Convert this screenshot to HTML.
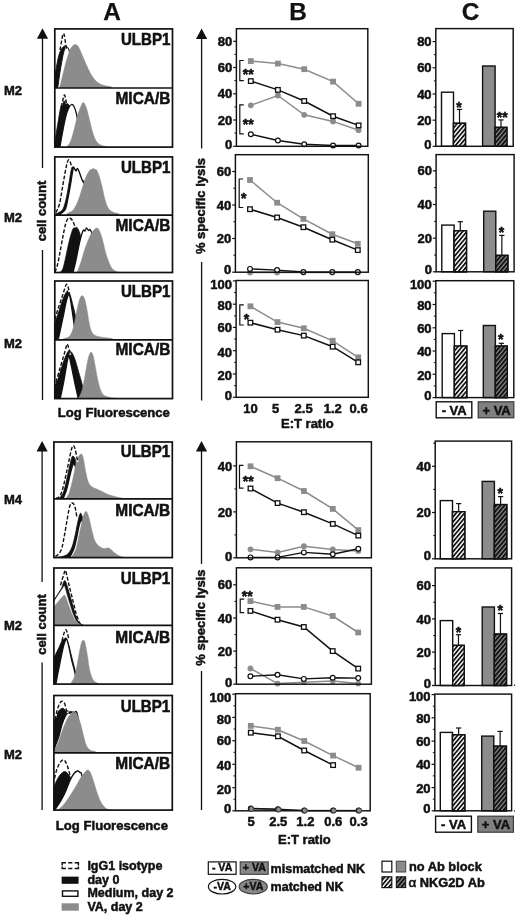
<!DOCTYPE html>
<html lang="en"><head><meta charset="utf-8"><title>Figure</title>
<style>
html,body{margin:0;padding:0;background:#fff;}
body{width:520px;height:918px;overflow:hidden;font-family:"Liberation Sans",sans-serif;}
svg{display:block;filter:blur(0.3px);}
</style></head><body>
<svg width="520" height="918" viewBox="0 0 520 918">
<rect width="520" height="918" fill="#fff"/>
<defs>
<pattern id="hw" width="3.2" height="3.2" patternUnits="userSpaceOnUse" patternTransform="rotate(-50)"><rect width="3.2" height="3.2" fill="#fff"/><rect width="3.2" height="1.75" fill="#111"/></pattern>
<pattern id="hg" width="3.2" height="3.2" patternUnits="userSpaceOnUse" patternTransform="rotate(-50)"><rect width="3.2" height="3.2" fill="#8c8c8c"/><rect width="3.2" height="1.95" fill="#111"/></pattern>
</defs>
<text x="112" y="20.4" font-size="24.4" text-anchor="middle" fill="#111" stroke="#111" stroke-width="0.25" font-family="Liberation Sans, sans-serif" font-weight="bold">A</text>
<text x="298" y="20.4" font-size="24.4" text-anchor="middle" fill="#111" stroke="#111" stroke-width="0.25" font-family="Liberation Sans, sans-serif" font-weight="bold">B</text>
<text x="470.5" y="20.4" font-size="24.4" text-anchor="middle" fill="#111" stroke="#111" stroke-width="0.25" font-family="Liberation Sans, sans-serif" font-weight="bold">C</text>
<clipPath id="h1a"><rect x="54.8" y="28.9" width="117.7" height="59.1"/></clipPath>
<g clip-path="url(#h1a)">
<path d="M53.5,86.5 C53.75,84.58 54.46,78.58 55,75 C55.54,71.42 56.12,68.25 56.75,65 C57.38,61.75 58,58.12 58.75,55.5 C59.5,52.88 60.42,50.75 61.25,49.25 C62.08,47.75 62.96,47.04 63.75,46.5 C64.54,45.96 65.21,45.62 66,46 C66.79,46.38 67.67,46.83 68.5,48.75 C69.33,50.67 70.08,53.12 71,57.5 C71.92,61.88 73.17,70.17 74,75 C74.83,79.83 75.67,84.58 76,86.5 L76,88 L53.5,88 Z" fill="#111" stroke="#111" stroke-width="0.8"/>
<path d="M58,86.5 C58.25,84.58 58.92,78.92 59.5,75 C60.08,71.08 60.79,66.83 61.5,63 C62.21,59.17 63,54.62 63.75,52 C64.5,49.38 65.25,47.79 66,47.25 C66.75,46.71 67.58,47.67 68.25,48.75 C68.92,49.83 69.29,51.04 70,53.75 C70.71,56.46 71.67,59.54 72.5,65 C73.33,70.46 74.58,82.92 75,86.5 L75,88 L58,88 Z" fill="#fff" stroke="none"/>
<path d="M58,86.5 C58.25,84.58 58.92,78.92 59.5,75 C60.08,71.08 60.79,66.83 61.5,63 C62.21,59.17 63,54.62 63.75,52 C64.5,49.38 65.25,47.79 66,47.25 C66.75,46.71 67.58,47.67 68.25,48.75 C68.92,49.83 69.29,51.04 70,53.75 C70.71,56.46 71.67,59.54 72.5,65 C73.33,70.46 74.58,82.92 75,86.5" fill="none" stroke="#111" stroke-width="1" stroke-linejoin="round"/>
<path d="M60,86.5 C60.46,84.58 61.88,78.58 62.75,75 C63.62,71.42 64.42,68.12 65.25,65 C66.08,61.88 66.79,59.08 67.75,56.25 C68.71,53.42 69.75,49.96 71,48 C72.25,46.04 73.96,44.58 75.25,44.5 C76.54,44.42 77.33,45.12 78.75,47.5 C80.17,49.88 81.88,54.58 83.75,58.75 C85.62,62.92 87.92,68.75 90,72.5 C92.08,76.25 94.17,79.17 96.25,81.25 C98.33,83.33 100,84.08 102.5,85 C105,85.92 109.79,86.46 111.25,86.75 L111.25,88 L60,88 Z" fill="#8c8c8c" stroke="#8c8c8c" stroke-width="0.5"/>
<path d="M60,50 C60.25,48.58 61,44.17 61.5,41.5 C62,38.83 62.54,35.08 63,34 C63.46,32.92 63.83,33.5 64.25,35 C64.67,36.5 65.12,40.71 65.5,43 C65.88,45.29 66.33,47.79 66.5,48.75" fill="none" stroke="#fff" stroke-width="1.6" stroke-dasharray="3.8 1.9" stroke-dashoffset="3.8" opacity="0.9"/>
<path d="M60,50 C60.25,48.58 61,44.17 61.5,41.5 C62,38.83 62.54,35.08 63,34 C63.46,32.92 63.83,33.5 64.25,35 C64.67,36.5 65.12,40.71 65.5,43 C65.88,45.29 66.33,47.79 66.5,48.75" fill="none" stroke="#111" stroke-width="1.4" stroke-dasharray="3.8 1.9"/>
</g>
<text transform="translate(170.4,44.7) scale(1,1.08)" font-size="15.1" text-anchor="end" fill="#111" stroke="#111" stroke-width="0.5" font-family="Liberation Sans, sans-serif" font-weight="bold">ULBP1</text>
<clipPath id="h1b"><rect x="54.8" y="88" width="117.7" height="59.1"/></clipPath>
<g clip-path="url(#h1b)">
<path d="M54.5,146.5 C54.75,144.58 55.42,139 56,135 C56.58,131 57.17,127.33 58,122.5 C58.83,117.67 60.08,109.5 61,106 C61.92,102.5 62.58,102.08 63.5,101.5 C64.42,100.92 65.5,101.75 66.5,102.5 C67.5,103.25 68.5,104.33 69.5,106 C70.5,107.67 71.58,109.33 72.5,112.5 C73.42,115.67 74.17,119.33 75,125 C75.83,130.67 77.08,142.92 77.5,146.5 L77.5,147.1 L54.5,147.1 Z" fill="#111" stroke="#111" stroke-width="0.8"/>
<path d="M60,146.5 C60.42,144.17 61.58,137.33 62.5,132.5 C63.42,127.67 64.5,121.5 65.5,117.5 C66.5,113.5 67.5,110.67 68.5,108.5 C69.5,106.33 70.58,104.83 71.5,104.5 C72.42,104.17 73.17,104.92 74,106.5 C74.83,108.08 75.67,110.5 76.5,114 C77.33,117.5 78.08,122.08 79,127.5 C79.92,132.92 81.5,143.33 82,146.5 L82,147.1 L60,147.1 Z" fill="#fff" stroke="none"/>
<path d="M60,146.5 C60.42,144.17 61.58,137.33 62.5,132.5 C63.42,127.67 64.5,121.5 65.5,117.5 C66.5,113.5 67.5,110.67 68.5,108.5 C69.5,106.33 70.58,104.83 71.5,104.5 C72.42,104.17 73.17,104.92 74,106.5 C74.83,108.08 75.67,110.5 76.5,114 C77.33,117.5 78.08,122.08 79,127.5 C79.92,132.92 81.5,143.33 82,146.5" fill="none" stroke="#111" stroke-width="1.3" stroke-linejoin="round"/>
<path d="M67.25,146.5 C67.83,145.58 69.58,143.92 70.75,141 C71.92,138.08 73.08,133.33 74.25,129 C75.42,124.67 76.58,118.92 77.75,115 C78.92,111.08 80.29,107.58 81.25,105.5 C82.21,103.42 82.67,102.17 83.5,102.5 C84.33,102.83 85.33,104.96 86.25,107.5 C87.17,110.04 87.96,113.71 89,117.75 C90.04,121.79 91.38,128 92.5,131.75 C93.62,135.5 94.46,138.08 95.75,140.25 C97.04,142.42 98.54,143.71 100.25,144.75 C101.96,145.79 105.04,146.21 106,146.5 L106,147.1 L67.25,147.1 Z" fill="#8c8c8c" stroke="#8c8c8c" stroke-width="0.5"/>
<path d="M61.5,107 C61.71,105.92 62.29,102.5 62.75,100.5 C63.21,98.5 63.79,95.42 64.25,95 C64.71,94.58 65.12,96.5 65.5,98 C65.88,99.5 66.33,103 66.5,104" fill="none" stroke="#fff" stroke-width="1.6" stroke-dasharray="3.8 1.9" stroke-dashoffset="3.8" opacity="0.9"/>
<path d="M61.5,107 C61.71,105.92 62.29,102.5 62.75,100.5 C63.21,98.5 63.79,95.42 64.25,95 C64.71,94.58 65.12,96.5 65.5,98 C65.88,99.5 66.33,103 66.5,104" fill="none" stroke="#111" stroke-width="1.4" stroke-dasharray="3.8 1.9"/>
</g>
<text transform="translate(170.4,103.6) scale(1,1.06)" font-size="15.45" text-anchor="end" fill="#111" stroke="#111" stroke-width="0.5" font-family="Liberation Sans, sans-serif" font-weight="bold">MICA/B</text>
<rect x="54.8" y="28.9" width="117.7" height="118.2" fill="none" stroke="#111" stroke-width="1.7" />
<line x1="54.8" y1="88" x2="172.5" y2="88" stroke="#111" stroke-width="1.7" />
<clipPath id="h2a"><rect x="54.8" y="156.9" width="117.7" height="58.3"/></clipPath>
<g clip-path="url(#h2a)">
<path d="M56,213.5 C56.29,213.42 56.58,213.75 57.75,213 C58.92,212.25 61.54,211.67 63,209 C64.46,206.33 65.5,201.29 66.5,197 C67.5,192.71 68.25,187.58 69,183.25 C69.75,178.92 70.42,173.75 71,171 C71.58,168.25 71.96,167.33 72.5,166.75 C73.04,166.17 73.67,166.79 74.25,167.5 C74.83,168.21 75.46,170.83 76,171 C76.54,171.17 76.92,168.21 77.5,168.5 C78.08,168.79 78.75,170.88 79.5,172.75 C80.25,174.62 81.17,177.88 82,179.75 C82.83,181.62 83.58,178.38 84.5,184 C85.42,189.62 87,208.58 87.5,213.5 L87.5,215.2 L56,215.2 Z" fill="#111" stroke="#111" stroke-width="0.8"/>
<path d="M61.25,213.5 C61.96,212.75 64.33,211.75 65.5,209 C66.67,206.25 67.38,201.29 68.25,197 C69.12,192.71 70.04,187.42 70.75,183.25 C71.46,179.08 72,174.54 72.5,172 C73,169.46 73.17,168.17 73.75,168 C74.33,167.83 75.38,170.92 76,171 C76.62,171.08 76.92,168.21 77.5,168.5 C78.08,168.79 78.75,170.88 79.5,172.75 C80.25,174.62 81.17,177.88 82,179.75 C82.83,181.62 83.58,182.79 84.5,184 C85.42,185.21 86.38,182.08 87.5,187 C88.62,191.92 90.62,209.08 91.25,213.5 L91.25,215.2 L61.25,215.2 Z" fill="#fff" stroke="none"/>
<path d="M61.25,213.5 C61.96,212.75 64.33,211.75 65.5,209 C66.67,206.25 67.38,201.29 68.25,197 C69.12,192.71 70.04,187.42 70.75,183.25 C71.46,179.08 72,174.54 72.5,172 C73,169.46 73.17,168.17 73.75,168 C74.33,167.83 75.38,170.92 76,171 C76.62,171.08 76.92,168.21 77.5,168.5 C78.08,168.79 78.75,170.88 79.5,172.75 C80.25,174.62 81.17,177.88 82,179.75 C82.83,181.62 83.58,182.79 84.5,184 C85.42,185.21 86.38,182.08 87.5,187 C88.62,191.92 90.62,209.08 91.25,213.5" fill="none" stroke="#111" stroke-width="1.3" stroke-linejoin="round"/>
<path d="M67.25,213.5 C68.12,213.04 71.04,212.08 72.5,210.75 C73.96,209.42 74.83,207.79 76,205.5 C77.17,203.21 78.38,200.17 79.5,197 C80.62,193.83 81.62,189.96 82.75,186.5 C83.88,183.04 85.08,178.96 86.25,176.25 C87.42,173.54 88.88,171.38 89.75,170.25 C90.62,169.12 90.92,169.79 91.5,169.5 C92.08,169.21 92.67,168.5 93.25,168.5 C93.83,168.5 94.42,169.21 95,169.5 C95.58,169.79 96.04,169.12 96.75,170.25 C97.46,171.38 98.38,173.54 99.25,176.25 C100.12,178.96 101,182.46 102,186.5 C103,190.54 104.12,196.75 105.25,200.5 C106.38,204.25 107.29,207 108.75,209 C110.21,211 112.33,211.75 114,212.5 C115.67,213.25 117.96,213.33 118.75,213.5 L118.75,215.2 L67.25,215.2 Z" fill="#8c8c8c" stroke="#8c8c8c" stroke-width="0.5"/>
<path d="M56,212.5 C56.58,211.08 58.5,207.75 59.5,204 C60.5,200.25 61.12,194.92 62,190 C62.88,185.08 63.88,179.08 64.75,174.5 C65.62,169.92 66.58,164.96 67.25,162.5 C67.92,160.04 68.25,159.83 68.75,159.75 C69.25,159.67 69.75,160.71 70.25,162 C70.75,163.29 71.5,166.58 71.75,167.5" fill="none" stroke="#fff" stroke-width="1.6" stroke-dasharray="3.8 1.9" stroke-dashoffset="3.8" opacity="0.9"/>
<path d="M56,212.5 C56.58,211.08 58.5,207.75 59.5,204 C60.5,200.25 61.12,194.92 62,190 C62.88,185.08 63.88,179.08 64.75,174.5 C65.62,169.92 66.58,164.96 67.25,162.5 C67.92,160.04 68.25,159.83 68.75,159.75 C69.25,159.67 69.75,160.71 70.25,162 C70.75,163.29 71.5,166.58 71.75,167.5" fill="none" stroke="#111" stroke-width="1.4" stroke-dasharray="3.8 1.9"/>
</g>
<text transform="translate(170.4,172.5) scale(1,1.08)" font-size="15.1" text-anchor="end" fill="#111" stroke="#111" stroke-width="0.5" font-family="Liberation Sans, sans-serif" font-weight="bold">ULBP1</text>
<clipPath id="h2b"><rect x="54.8" y="215.2" width="117.7" height="57.3"/></clipPath>
<g clip-path="url(#h2b)">
<path d="M60,272.5 C60.5,271.83 62,271.25 63,268.5 C64,265.75 65,260.38 66,256 C67,251.62 67.92,246.58 69,242.25 C70.08,237.92 71.42,232.54 72.5,230 C73.58,227.46 74.58,227.17 75.5,227 C76.42,226.83 77.17,227.5 78,229 C78.83,230.5 79.75,232.33 80.5,236 C81.25,239.67 81.92,244.92 82.5,251 C83.08,257.08 83.75,268.92 84,272.5 L84,272.5 L60,272.5 Z" fill="#111" stroke="#111" stroke-width="0.8"/>
<path d="M73,272.5 C73.5,270.42 75,264.58 76,260 C77,255.42 78.08,249.17 79,245 C79.92,240.83 80.75,237.5 81.5,235 C82.25,232.5 82.92,230.67 83.5,230 C84.08,229.33 84.5,231.33 85,231 C85.5,230.67 85.92,228.08 86.5,228 C87.08,227.92 87.92,230.25 88.5,230.5 C89.08,230.75 89.42,229 90,229.5 C90.58,230 91.33,231.58 92,233.5 C92.67,235.42 93.08,234.5 94,241 C94.92,247.5 96.92,267.25 97.5,272.5 L97.5,272.5 L73,272.5 Z" fill="#fff" stroke="none"/>
<path d="M73,272.5 C73.5,270.42 75,264.58 76,260 C77,255.42 78.08,249.17 79,245 C79.92,240.83 80.75,237.5 81.5,235 C82.25,232.5 82.92,230.67 83.5,230 C84.08,229.33 84.5,231.33 85,231 C85.5,230.67 85.92,228.08 86.5,228 C87.08,227.92 87.92,230.25 88.5,230.5 C89.08,230.75 89.42,229 90,229.5 C90.58,230 91.33,231.58 92,233.5 C92.67,235.42 93.08,234.5 94,241 C94.92,247.5 96.92,267.25 97.5,272.5" fill="none" stroke="#111" stroke-width="1.3" stroke-linejoin="round"/>
<path d="M77,272.5 C77.67,270.75 79.67,266 81,262 C82.33,258 83.5,252.83 85,248.5 C86.5,244.17 88.5,239.08 90,236 C91.5,232.92 92.83,231.33 94,230 C95.17,228.67 96.08,227.83 97,228 C97.92,228.17 98.58,229.04 99.5,231 C100.42,232.96 101.38,235.79 102.5,239.75 C103.62,243.71 104.79,250.17 106.25,254.75 C107.71,259.33 109.58,264.46 111.25,267.25 C112.92,270.04 114.29,270.58 116.25,271.5 C118.21,272.42 121.88,272.54 123,272.75 L123,272.5 L77,272.5 Z" fill="#8c8c8c" stroke="#8c8c8c" stroke-width="0.5"/>
<path d="M55,272 C55.42,270.79 56.67,268.04 57.5,264.75 C58.33,261.46 59.08,257.04 60,252.25 C60.92,247.46 62,240.96 63,236 C64,231.04 65,225.5 66,222.5 C67,219.5 67.92,218.33 69,218 C70.08,217.67 71.42,218.83 72.5,220.5 C73.58,222.17 75,226.75 75.5,228" fill="none" stroke="#fff" stroke-width="1.6" stroke-dasharray="3.8 1.9" stroke-dashoffset="3.8" opacity="0.9"/>
<path d="M55,272 C55.42,270.79 56.67,268.04 57.5,264.75 C58.33,261.46 59.08,257.04 60,252.25 C60.92,247.46 62,240.96 63,236 C64,231.04 65,225.5 66,222.5 C67,219.5 67.92,218.33 69,218 C70.08,217.67 71.42,218.83 72.5,220.5 C73.58,222.17 75,226.75 75.5,228" fill="none" stroke="#111" stroke-width="1.4" stroke-dasharray="3.8 1.9"/>
</g>
<text transform="translate(170.4,230.7) scale(1,1.06)" font-size="15.45" text-anchor="end" fill="#111" stroke="#111" stroke-width="0.5" font-family="Liberation Sans, sans-serif" font-weight="bold">MICA/B</text>
<rect x="54.8" y="156.9" width="117.7" height="115.6" fill="none" stroke="#111" stroke-width="1.7" />
<line x1="54.8" y1="215.2" x2="172.5" y2="215.2" stroke="#111" stroke-width="1.7" />
<clipPath id="h3a"><rect x="54.8" y="281" width="117.7" height="58.8"/></clipPath>
<g clip-path="url(#h3a)">
<path d="M53.5,327 C53.79,326.17 54.38,324.58 55.25,322 C56.12,319.42 57.62,314.96 58.75,311.5 C59.88,308.04 60.88,304.25 62,301.25 C63.12,298.25 64.46,295.25 65.5,293.5 C66.54,291.75 67.42,290.33 68.25,290.75 C69.08,291.17 69.67,293.38 70.5,296 C71.33,298.62 72.33,302.75 73.25,306.5 C74.17,310.25 75.33,314.75 76,318.5 C76.67,322.25 76.83,325.67 77.25,329 C77.67,332.33 78.29,336.92 78.5,338.5 L78.5,339.8 L53.5,339.8 Z" fill="#111" stroke="#111" stroke-width="0.8"/>
<path d="M58.5,338.5 C58.96,336.33 60.42,329.42 61.25,325.5 C62.08,321.58 62.79,318.46 63.5,315 C64.21,311.54 64.88,307.62 65.5,304.75 C66.12,301.88 66.71,299.5 67.25,297.75 C67.79,296 68.29,294.38 68.75,294.25 C69.21,294.12 69.58,295.25 70,297 C70.42,298.75 70.79,301.75 71.25,304.75 C71.71,307.75 72.29,311.83 72.75,315 C73.21,318.17 73.58,320.88 74,323.75 C74.42,326.62 74.92,329.79 75.25,332.25 C75.58,334.71 75.88,337.46 76,338.5 L76,339.8 L58.5,339.8 Z" fill="#fff" stroke="none"/>
<path d="M58.5,338.5 C58.96,336.33 60.42,329.42 61.25,325.5 C62.08,321.58 62.79,318.46 63.5,315 C64.21,311.54 64.88,307.62 65.5,304.75 C66.12,301.88 66.71,299.5 67.25,297.75 C67.79,296 68.29,294.38 68.75,294.25 C69.21,294.12 69.58,295.25 70,297 C70.42,298.75 70.79,301.75 71.25,304.75 C71.71,307.75 72.29,311.83 72.75,315 C73.21,318.17 73.58,320.88 74,323.75 C74.42,326.62 74.92,329.79 75.25,332.25 C75.58,334.71 75.88,337.46 76,338.5" fill="none" stroke="#111" stroke-width="1.3" stroke-linejoin="round"/>
<path d="M63.75,338.5 C64.62,338.21 67.54,338.08 69,336.75 C70.46,335.42 71.5,333.25 72.5,330.5 C73.5,327.75 74.12,324.25 75,320.25 C75.88,316.25 76.88,310.25 77.75,306.5 C78.62,302.75 79.46,299.54 80.25,297.75 C81.04,295.96 81.79,295.58 82.5,295.75 C83.21,295.92 83.79,296.67 84.5,298.75 C85.21,300.83 86,304.38 86.75,308.25 C87.5,312.12 88.21,318.12 89,322 C89.79,325.88 90.38,329.21 91.5,331.5 C92.62,333.79 93.71,334.75 95.75,335.75 C97.79,336.75 101,337.04 103.75,337.5 C106.5,337.96 110.83,338.33 112.25,338.5 L112.25,339.8 L63.75,339.8 Z" fill="#8c8c8c" stroke="#8c8c8c" stroke-width="0.5"/>
<path d="M55,319.5 C55.46,317.88 56.71,313.08 57.75,309.75 C58.79,306.42 60.17,302.79 61.25,299.5 C62.33,296.21 63.38,292.54 64.25,290 C65.12,287.46 65.83,284.67 66.5,284.25 C67.17,283.83 67.75,285.83 68.25,287.5 C68.75,289.17 69.29,293.12 69.5,294.25" fill="none" stroke="#fff" stroke-width="1.6" stroke-dasharray="3.8 1.9" stroke-dashoffset="3.8" opacity="0.9"/>
<path d="M55,319.5 C55.46,317.88 56.71,313.08 57.75,309.75 C58.79,306.42 60.17,302.79 61.25,299.5 C62.33,296.21 63.38,292.54 64.25,290 C65.12,287.46 65.83,284.67 66.5,284.25 C67.17,283.83 67.75,285.83 68.25,287.5 C68.75,289.17 69.29,293.12 69.5,294.25" fill="none" stroke="#111" stroke-width="1.4" stroke-dasharray="3.8 1.9"/>
</g>
<text transform="translate(170.4,297) scale(1,1.08)" font-size="15.1" text-anchor="end" fill="#111" stroke="#111" stroke-width="0.5" font-family="Liberation Sans, sans-serif" font-weight="bold">ULBP1</text>
<clipPath id="h3b"><rect x="54.8" y="339.8" width="117.7" height="58.8"/></clipPath>
<g clip-path="url(#h3b)">
<path d="M53.5,387 C53.92,386.46 55,386.04 56,383.75 C57,381.46 58.33,376.71 59.5,373.25 C60.67,369.79 61.83,366.17 63,363 C64.17,359.83 65.5,356.29 66.5,354.25 C67.5,352.21 68.12,351.04 69,350.75 C69.88,350.46 70.75,351.04 71.75,352.5 C72.75,353.96 73.88,356.33 75,359.5 C76.12,362.67 77.33,367.46 78.5,371.5 C79.67,375.54 81.12,380.29 82,383.75 C82.88,387.21 83.25,389.79 83.75,392.25 C84.25,394.71 84.79,397.46 85,398.5 L85,398.6 L53.5,398.6 Z" fill="#111" stroke="#111" stroke-width="0.8"/>
<path d="M60.25,398.5 C60.71,396.33 62.12,390 63,385.5 C63.88,381 64.79,375.54 65.5,371.5 C66.21,367.46 66.71,363.83 67.25,361.25 C67.79,358.67 68.29,356.29 68.75,356 C69.21,355.71 69.38,356.92 70,359.5 C70.62,362.08 71.67,367.46 72.5,371.5 C73.33,375.54 74.12,379.62 75,383.75 C75.88,387.88 77.21,393.79 77.75,396.25 C78.29,398.71 78.17,398.12 78.25,398.5 L78.25,398.6 L60.25,398.6 Z" fill="#fff" stroke="none"/>
<path d="M60.25,398.5 C60.71,396.33 62.12,390 63,385.5 C63.88,381 64.79,375.54 65.5,371.5 C66.21,367.46 66.71,363.83 67.25,361.25 C67.79,358.67 68.29,356.29 68.75,356 C69.21,355.71 69.38,356.92 70,359.5 C70.62,362.08 71.67,367.46 72.5,371.5 C73.33,375.54 74.12,379.62 75,383.75 C75.88,387.88 77.21,393.79 77.75,396.25 C78.29,398.71 78.17,398.12 78.25,398.5" fill="none" stroke="#111" stroke-width="1.3" stroke-linejoin="round"/>
<path d="M78.5,398.5 C79.08,397.17 81,393.83 82,390.5 C83,387.17 83.62,383.08 84.5,378.5 C85.38,373.92 86.42,367.04 87.25,363 C88.08,358.96 88.83,356.04 89.5,354.25 C90.17,352.46 90.62,351.96 91.25,352.25 C91.88,352.54 92.58,353.62 93.25,356 C93.92,358.38 94.54,362.75 95.25,366.5 C95.96,370.25 96.67,374.75 97.5,378.5 C98.33,382.25 99.25,386.25 100.25,389 C101.25,391.75 101.79,393.58 103.5,395 C105.21,396.42 107.75,396.92 110.5,397.5 C113.25,398.08 118.42,398.33 120,398.5 L120,398.6 L78.5,398.6 Z" fill="#8c8c8c" stroke="#8c8c8c" stroke-width="0.5"/>
<path d="M56,382 C56.67,379.71 58.71,372.62 60,368.25 C61.29,363.88 62.75,359.21 63.75,355.75 C64.75,352.29 65.42,349.46 66,347.5 C66.58,345.54 66.75,343.75 67.25,344 C67.75,344.25 68.46,347.17 69,349 C69.54,350.83 70.25,354 70.5,355" fill="none" stroke="#fff" stroke-width="1.6" stroke-dasharray="3.8 1.9" stroke-dashoffset="3.8" opacity="0.9"/>
<path d="M56,382 C56.67,379.71 58.71,372.62 60,368.25 C61.29,363.88 62.75,359.21 63.75,355.75 C64.75,352.29 65.42,349.46 66,347.5 C66.58,345.54 66.75,343.75 67.25,344 C67.75,344.25 68.46,347.17 69,349 C69.54,350.83 70.25,354 70.5,355" fill="none" stroke="#111" stroke-width="1.4" stroke-dasharray="3.8 1.9"/>
</g>
<text transform="translate(170.4,355.4) scale(1,1.06)" font-size="15.45" text-anchor="end" fill="#111" stroke="#111" stroke-width="0.5" font-family="Liberation Sans, sans-serif" font-weight="bold">MICA/B</text>
<rect x="54.8" y="281" width="117.7" height="117.6" fill="none" stroke="#111" stroke-width="1.7" />
<line x1="54.8" y1="339.8" x2="172.5" y2="339.8" stroke="#111" stroke-width="1.7" />
<clipPath id="h4a"><rect x="53.9" y="442" width="118.4" height="56.8"/></clipPath>
<g clip-path="url(#h4a)">
<path d="M55,499 C55.75,498.75 58.17,498.46 59.5,497.5 C60.83,496.54 62,495.38 63,493.25 C64,491.12 64.62,488.21 65.5,484.75 C66.38,481.29 67.42,476.25 68.25,472.5 C69.08,468.75 69.79,464.96 70.5,462.25 C71.21,459.54 71.75,456.83 72.5,456.25 C73.25,455.67 74.42,457.17 75,458.75 C75.58,460.33 75.5,458.96 76,465.75 C76.5,472.54 77.67,493.88 78,499.5 L78,498.8 L55,498.8 Z" fill="#111" stroke="#111" stroke-width="0.8"/>
<path d="M63,499 C63.58,497.5 65.5,493.25 66.5,490 C67.5,486.75 68.17,482.96 69,479.5 C69.83,476.04 70.79,471.83 71.5,469.25 C72.21,466.67 72.67,464.58 73.25,464 C73.83,463.42 74.38,464.25 75,465.75 C75.62,467.25 76.17,467.38 77,473 C77.83,478.62 79.5,495.08 80,499.5 L80,498.8 L63,498.8 Z" fill="#fff" stroke="none"/>
<path d="M63,499 C63.58,497.5 65.5,493.25 66.5,490 C67.5,486.75 68.17,482.96 69,479.5 C69.83,476.04 70.79,471.83 71.5,469.25 C72.21,466.67 72.67,464.58 73.25,464 C73.83,463.42 74.38,464.25 75,465.75 C75.62,467.25 76.17,467.38 77,473 C77.83,478.62 79.5,495.08 80,499.5" fill="none" stroke="#111" stroke-width="1.3" stroke-linejoin="round"/>
<path d="M64.5,499 C64.83,498.75 65.75,498.46 66.5,497.5 C67.25,496.54 68.17,495.38 69,493.25 C69.83,491.12 70.62,488.21 71.5,484.75 C72.38,481.29 73.38,476.54 74.25,472.5 C75.12,468.46 75.88,463.38 76.75,460.5 C77.62,457.62 78.62,456.25 79.5,455.25 C80.38,454.25 81.29,453.62 82,454.5 C82.71,455.38 83.17,457.79 83.75,460.5 C84.33,463.21 84.79,467.29 85.5,470.75 C86.21,474.21 87,478.62 88,481.25 C89,483.88 90.04,485.21 91.5,486.5 C92.96,487.79 95,488.17 96.75,489 C98.5,489.83 100,490.54 102,491.5 C104,492.46 106.46,493.88 108.75,494.75 C111.04,495.62 113.25,496.12 115.75,496.75 C118.25,497.38 122.42,498.21 123.75,498.5 L123.75,498.8 L64.5,498.8 Z" fill="#8c8c8c" stroke="#8c8c8c" stroke-width="0.5"/>
<path d="M56,498.5 C56.5,498.25 58.12,497.88 59,497 C59.88,496.12 60.46,495.29 61.25,493.25 C62.04,491.21 62.88,488.21 63.75,484.75 C64.62,481.29 65.62,476.54 66.5,472.5 C67.38,468.46 68.17,464.38 69,460.5 C69.83,456.62 70.79,451.71 71.5,449.25 C72.21,446.79 72.67,445.88 73.25,445.75 C73.83,445.62 74.42,446.62 75,448.5 C75.58,450.38 76.29,454.71 76.75,457 C77.21,459.29 77.58,461.38 77.75,462.25" fill="none" stroke="#fff" stroke-width="1.6" stroke-dasharray="3.8 1.9" stroke-dashoffset="3.8" opacity="0.9"/>
<path d="M56,498.5 C56.5,498.25 58.12,497.88 59,497 C59.88,496.12 60.46,495.29 61.25,493.25 C62.04,491.21 62.88,488.21 63.75,484.75 C64.62,481.29 65.62,476.54 66.5,472.5 C67.38,468.46 68.17,464.38 69,460.5 C69.83,456.62 70.79,451.71 71.5,449.25 C72.21,446.79 72.67,445.88 73.25,445.75 C73.83,445.62 74.42,446.62 75,448.5 C75.58,450.38 76.29,454.71 76.75,457 C77.21,459.29 77.58,461.38 77.75,462.25" fill="none" stroke="#111" stroke-width="1.4" stroke-dasharray="3.8 1.9"/>
</g>
<text transform="translate(170.2,457.2) scale(1,1.08)" font-size="15.1" text-anchor="end" fill="#111" stroke="#111" stroke-width="0.5" font-family="Liberation Sans, sans-serif" font-weight="bold">ULBP1</text>
<clipPath id="h4b"><rect x="53.9" y="498.8" width="118.4" height="58.8"/></clipPath>
<g clip-path="url(#h4b)">
<path d="M56,557.5 C57.75,557.08 63.83,556.75 66.5,555 C69.17,553.25 70.5,550.58 72,547 C73.5,543.42 74.5,537.83 75.5,533.5 C76.5,529.17 77.21,524.33 78,521 C78.79,517.67 79.58,514.33 80.25,513.5 C80.92,512.67 81.54,514.33 82,516 C82.46,517.67 82.5,516.58 83,523.5 C83.5,530.42 84.67,551.83 85,557.5 L85,557.6 L56,557.6 Z" fill="#111" stroke="#111" stroke-width="0.8"/>
<path d="M69.5,557.5 C70.25,556 72.75,552.08 74,548.5 C75.25,544.92 76.17,539.75 77,536 C77.83,532.25 78.33,528.5 79,526 C79.67,523.5 80.33,521.42 81,521 C81.67,520.58 82.25,517.42 83,523.5 C83.75,529.58 85.08,551.83 85.5,557.5 L85.5,557.6 L69.5,557.6 Z" fill="#fff" stroke="none"/>
<path d="M69.5,557.5 C70.25,556 72.75,552.08 74,548.5 C75.25,544.92 76.17,539.75 77,536 C77.83,532.25 78.33,528.5 79,526 C79.67,523.5 80.33,521.42 81,521 C81.67,520.58 82.25,517.42 83,523.5 C83.75,529.58 85.08,551.83 85.5,557.5" fill="none" stroke="#111" stroke-width="1.3" stroke-linejoin="round"/>
<path d="M71,557.5 C71.83,556.08 74.5,553.42 76,549 C77.5,544.58 78.83,536.25 80,531 C81.17,525.75 82.08,520.75 83,517.5 C83.92,514.25 84.75,512.17 85.5,511.5 C86.25,510.83 86.83,512.12 87.5,513.5 C88.17,514.88 88.75,516.83 89.5,519.75 C90.25,522.67 91.08,527.46 92,531 C92.92,534.54 93.88,538.5 95,541 C96.12,543.5 97.29,544.75 98.75,546 C100.21,547.25 102.08,548.17 103.75,548.5 C105.42,548.83 107.29,547.58 108.75,548 C110.21,548.42 111.04,549.83 112.5,551 C113.96,552.17 115.62,553.92 117.5,555 C119.38,556.08 122.71,557.08 123.75,557.5 L123.75,557.6 L71,557.6 Z" fill="#8c8c8c" stroke="#8c8c8c" stroke-width="0.5"/>
<path d="M55.5,556.5 C56.42,555.5 59.5,554.08 61,550.5 C62.5,546.92 63.42,540.5 64.5,535 C65.58,529.5 66.58,522.42 67.5,517.5 C68.42,512.58 69.17,507.92 70,505.5 C70.83,503.08 71.67,502.75 72.5,503 C73.33,503.25 74.25,504.5 75,507 C75.75,509.5 76.67,516.17 77,518" fill="none" stroke="#fff" stroke-width="1.6" stroke-dasharray="3.8 1.9" stroke-dashoffset="3.8" opacity="0.9"/>
<path d="M55.5,556.5 C56.42,555.5 59.5,554.08 61,550.5 C62.5,546.92 63.42,540.5 64.5,535 C65.58,529.5 66.58,522.42 67.5,517.5 C68.42,512.58 69.17,507.92 70,505.5 C70.83,503.08 71.67,502.75 72.5,503 C73.33,503.25 74.25,504.5 75,507 C75.75,509.5 76.67,516.17 77,518" fill="none" stroke="#111" stroke-width="1.4" stroke-dasharray="3.8 1.9"/>
</g>
<text transform="translate(170.2,515.7) scale(1,1.06)" font-size="15.45" text-anchor="end" fill="#111" stroke="#111" stroke-width="0.5" font-family="Liberation Sans, sans-serif" font-weight="bold">MICA/B</text>
<rect x="53.9" y="442" width="118.4" height="115.6" fill="none" stroke="#111" stroke-width="1.7" />
<line x1="53.9" y1="498.8" x2="172.3" y2="498.8" stroke="#111" stroke-width="1.7" />
<clipPath id="h5a"><rect x="53.9" y="568" width="118.4" height="57.3"/></clipPath>
<g clip-path="url(#h5a)">
<path d="M53.75,600.5 C54.58,599.21 57.38,594.96 58.75,592.75 C60.12,590.54 61.25,588.92 62,587.25 C62.75,585.58 62.83,583.83 63.25,582.75 C63.67,581.67 64.12,581 64.5,580.75 C64.88,580.5 65.08,580.46 65.5,581.25 C65.92,582.04 66.42,583.65 67,585.5 C67.58,587.35 68.21,589.71 69,592.38 C69.79,595.04 70.79,598.31 71.75,601.5 C72.71,604.69 73.75,608.58 74.75,611.5 C75.75,614.42 76.71,616.92 77.75,619 C78.79,621.08 80.12,623.02 81,624 C81.88,624.98 82.67,624.73 83,624.88 L83,625.3 L53.75,625.3 Z" fill="#111" stroke="#111" stroke-width="0.8"/>
<path d="M53.75,601.25 C54.58,599.96 57.29,595.71 58.75,593.5 C60.21,591.29 61.58,589.33 62.5,588 C63.42,586.67 63.75,585.46 64.25,585.5 C64.75,585.54 64.96,586.58 65.5,588.25 C66.04,589.92 66.75,592.94 67.5,595.5 C68.25,598.06 69.08,600.71 70,603.62 C70.92,606.54 72,610.29 73,613 C74,615.71 75,618.06 76,619.88 C77,621.69 78.21,623.04 79,623.88 C79.79,624.71 80.46,624.71 80.75,624.88 L80.75,625.3 L53.75,625.3 Z" fill="#fff" stroke="none"/>
<path d="M53.75,601.25 C54.58,599.96 57.29,595.71 58.75,593.5 C60.21,591.29 61.58,589.33 62.5,588 C63.42,586.67 63.75,585.46 64.25,585.5 C64.75,585.54 64.96,586.58 65.5,588.25 C66.04,589.92 66.75,592.94 67.5,595.5 C68.25,598.06 69.08,600.71 70,603.62 C70.92,606.54 72,610.29 73,613 C74,615.71 75,618.06 76,619.88 C77,621.69 78.21,623.04 79,623.88 C79.79,624.71 80.46,624.71 80.75,624.88" fill="none" stroke="#111" stroke-width="0.7" stroke-linejoin="round"/>
<path d="M53.75,607.12 C54.58,606.08 57.29,602.6 58.75,600.88 C60.21,599.15 61.5,597.69 62.5,596.75 C63.5,595.81 64.02,594.67 64.75,595.25 C65.48,595.83 66,597.96 66.88,600.25 C67.75,602.54 68.96,606.29 70,609 C71.04,611.71 72.08,614.42 73.12,616.5 C74.17,618.58 75.1,620.21 76.25,621.5 C77.4,622.79 79.17,623.69 80,624.25 C80.83,624.81 81.04,624.77 81.25,624.88 L81.25,625.3 L53.75,625.3 Z" fill="#8c8c8c" stroke="#8c8c8c" stroke-width="0.5"/>
<path d="M60.5,585.25 C60.75,584.38 61.46,581.77 62,580 C62.54,578.23 63.21,576.25 63.75,574.62 C64.29,573 64.73,570.1 65.25,570.25 C65.77,570.4 66.29,573.21 66.88,575.5 C67.46,577.79 68.02,580.92 68.75,584 C69.48,587.08 70.42,590.67 71.25,594 C72.08,597.33 72.92,600.67 73.75,604 C74.58,607.33 75.38,611.12 76.25,614 C77.12,616.88 78.54,620.04 79,621.25" fill="none" stroke="#fff" stroke-width="1.6" stroke-dasharray="3.8 1.9" stroke-dashoffset="3.8" opacity="0.9"/>
<path d="M60.5,585.25 C60.75,584.38 61.46,581.77 62,580 C62.54,578.23 63.21,576.25 63.75,574.62 C64.29,573 64.73,570.1 65.25,570.25 C65.77,570.4 66.29,573.21 66.88,575.5 C67.46,577.79 68.02,580.92 68.75,584 C69.48,587.08 70.42,590.67 71.25,594 C72.08,597.33 72.92,600.67 73.75,604 C74.58,607.33 75.38,611.12 76.25,614 C77.12,616.88 78.54,620.04 79,621.25" fill="none" stroke="#111" stroke-width="1.4" stroke-dasharray="3.8 1.9"/>
</g>
<text transform="translate(170.2,584.3) scale(1,1.08)" font-size="15.1" text-anchor="end" fill="#111" stroke="#111" stroke-width="0.5" font-family="Liberation Sans, sans-serif" font-weight="bold">ULBP1</text>
<clipPath id="h5b"><rect x="53.9" y="625.3" width="118.4" height="58.8"/></clipPath>
<g clip-path="url(#h5b)">
<path d="M53.5,659.5 C53.83,658.67 54.62,656.42 55.5,654.5 C56.38,652.58 57.67,650.25 58.75,648 C59.83,645.75 61,642.58 62,641 C63,639.42 64,638.92 64.75,638.5 C65.5,638.08 65.79,637.21 66.5,638.5 C67.21,639.79 68,642.67 69,646.25 C70,649.83 71.33,655.38 72.5,660 C73.67,664.62 75.12,670.08 76,674 C76.88,677.92 77.46,681.92 77.75,683.5 L77.75,684.1 L53.5,684.1 Z" fill="#111" stroke="#111" stroke-width="0.8"/>
<path d="M56,683.5 C56.29,681.92 57.17,677.04 57.75,674 C58.33,670.96 58.92,668.17 59.5,665.25 C60.08,662.33 60.58,659.67 61.25,656.5 C61.92,653.33 62.79,648.96 63.5,646.25 C64.21,643.54 64.96,641.42 65.5,640.25 C66.04,639.08 66.21,638.25 66.75,639.25 C67.29,640.25 67.96,642.92 68.75,646.25 C69.54,649.58 70.46,654.79 71.5,659.25 C72.54,663.71 74.12,668.96 75,673 C75.88,677.04 76.46,681.75 76.75,683.5 L76.75,684.1 L56,684.1 Z" fill="#fff" stroke="none"/>
<path d="M56,683.5 C56.29,681.92 57.17,677.04 57.75,674 C58.33,670.96 58.92,668.17 59.5,665.25 C60.08,662.33 60.58,659.67 61.25,656.5 C61.92,653.33 62.79,648.96 63.5,646.25 C64.21,643.54 64.96,641.42 65.5,640.25 C66.04,639.08 66.21,638.25 66.75,639.25 C67.29,640.25 67.96,642.92 68.75,646.25 C69.54,649.58 70.46,654.79 71.5,659.25 C72.54,663.71 74.12,668.96 75,673 C75.88,677.04 76.46,681.75 76.75,683.5" fill="none" stroke="#111" stroke-width="1.3" stroke-linejoin="round"/>
<path d="M70.75,683.5 C71.33,682.46 73.25,680 74.25,677.25 C75.25,674.5 75.88,671.29 76.75,667 C77.62,662.71 78.71,655.54 79.5,651.5 C80.29,647.46 80.88,644.62 81.5,642.75 C82.12,640.88 82.67,640.25 83.25,640.25 C83.83,640.25 84.33,640.33 85,642.75 C85.67,645.17 86.46,650.12 87.25,654.75 C88.04,659.38 88.75,666.29 89.75,670.5 C90.75,674.71 91.88,677.83 93.25,680 C94.62,682.17 97.21,682.92 98,683.5 L98,684.1 L70.75,684.1 Z" fill="#8c8c8c" stroke="#8c8c8c" stroke-width="0.5"/>
<path d="M62,641 C62.25,640 62.92,636.88 63.5,635 C64.08,633.12 64.88,630.17 65.5,629.75 C66.12,629.33 66.71,630.92 67.25,632.5 C67.79,634.08 68.5,638.12 68.75,639.25" fill="none" stroke="#fff" stroke-width="1.6" stroke-dasharray="3.8 1.9" stroke-dashoffset="3.8" opacity="0.9"/>
<path d="M62,641 C62.25,640 62.92,636.88 63.5,635 C64.08,633.12 64.88,630.17 65.5,629.75 C66.12,629.33 66.71,630.92 67.25,632.5 C67.79,634.08 68.5,638.12 68.75,639.25" fill="none" stroke="#111" stroke-width="1.4" stroke-dasharray="3.8 1.9"/>
</g>
<text transform="translate(170.2,643.3) scale(1,1.06)" font-size="15.45" text-anchor="end" fill="#111" stroke="#111" stroke-width="0.5" font-family="Liberation Sans, sans-serif" font-weight="bold">MICA/B</text>
<rect x="53.9" y="568" width="118.4" height="116.1" fill="none" stroke="#111" stroke-width="1.7" />
<line x1="53.9" y1="625.3" x2="172.3" y2="625.3" stroke="#111" stroke-width="1.7" />
<clipPath id="h6a"><rect x="53.9" y="695.5" width="118.4" height="57.4"/></clipPath>
<g clip-path="url(#h6a)">
<path d="M53,725 C53.21,724.38 53.58,723.04 54.25,721.25 C54.92,719.46 56.12,716.12 57,714.25 C57.88,712.38 58.5,711 59.5,710 C60.5,709 61.83,707.96 63,708.25 C64.17,708.54 65.62,710.92 66.5,711.75 C67.38,712.58 67.25,706.62 68.25,713.25 C69.25,719.88 71.79,745.12 72.5,751.5 L72.5,752.9 L53,752.9 Z" fill="#111" stroke="#111" stroke-width="0.8"/>
<path d="M54.5,750 C54.62,749.38 54.54,748.46 55.25,746.25 C55.96,744.04 57.62,740.38 58.75,736.75 C59.88,733.12 60.88,727.96 62,724.5 C63.12,721.04 64.46,718 65.5,716 C66.54,714 67.21,713.21 68.25,712.5 C69.29,711.79 70.75,711.75 71.75,711.75 C72.75,711.75 73.29,711.96 74.25,712.5 C75.21,713.04 76.12,708.5 77.5,715 C78.88,721.5 81.67,745.42 82.5,751.5 L82.5,752.9 L54.5,752.9 Z" fill="#fff" stroke="none"/>
<path d="M54.5,750 C54.62,749.38 54.54,748.46 55.25,746.25 C55.96,744.04 57.62,740.38 58.75,736.75 C59.88,733.12 60.88,727.96 62,724.5 C63.12,721.04 64.46,718 65.5,716 C66.54,714 67.21,713.21 68.25,712.5 C69.29,711.79 70.75,711.75 71.75,711.75 C72.75,711.75 73.29,711.96 74.25,712.5 C75.21,713.04 76.12,708.5 77.5,715 C78.88,721.5 81.67,745.42 82.5,751.5" fill="none" stroke="#111" stroke-width="1.3" stroke-linejoin="round"/>
<path d="M54.75,750 C55.42,748.5 57.54,744.08 58.75,741 C59.96,737.92 60.88,734.54 62,731.5 C63.12,728.46 64.33,725.33 65.5,722.75 C66.67,720.17 67.71,717.71 69,716 C70.29,714.29 72.08,712.96 73.25,712.5 C74.42,712.04 75.12,712.38 76,713.25 C76.88,714.12 77.62,715.58 78.5,717.75 C79.38,719.92 80.38,723.08 81.25,726.25 C82.12,729.42 82.92,733.58 83.75,736.75 C84.58,739.92 85.25,743.08 86.25,745.25 C87.25,747.42 88.21,748.71 89.75,749.75 C91.29,750.79 94.54,751.21 95.5,751.5 L95.5,752.9 L54.75,752.9 Z" fill="#8c8c8c" stroke="#8c8c8c" stroke-width="0.5"/>
<path d="M55.25,719.5 C55.54,718.04 56.29,713.38 57,710.75 C57.71,708.12 58.67,705.33 59.5,703.75 C60.33,702.17 61.12,701.25 62,701.25 C62.88,701.25 64,702.17 64.75,703.75 C65.5,705.33 65.79,709.17 66.5,710.75 C67.21,712.33 68,713.08 69,713.25 C70,713.42 71.92,712 72.5,711.75" fill="none" stroke="#fff" stroke-width="1.6" stroke-dasharray="3.8 1.9" stroke-dashoffset="3.8" opacity="0.9"/>
<path d="M55.25,719.5 C55.54,718.04 56.29,713.38 57,710.75 C57.71,708.12 58.67,705.33 59.5,703.75 C60.33,702.17 61.12,701.25 62,701.25 C62.88,701.25 64,702.17 64.75,703.75 C65.5,705.33 65.79,709.17 66.5,710.75 C67.21,712.33 68,713.08 69,713.25 C70,713.42 71.92,712 72.5,711.75" fill="none" stroke="#111" stroke-width="1.4" stroke-dasharray="3.8 1.9"/>
</g>
<text transform="translate(170.2,711.9) scale(1,1.08)" font-size="15.1" text-anchor="end" fill="#111" stroke="#111" stroke-width="0.5" font-family="Liberation Sans, sans-serif" font-weight="bold">ULBP1</text>
<clipPath id="h6b"><rect x="53.9" y="752.9" width="118.4" height="57.2"/></clipPath>
<g clip-path="url(#h6b)">
<path d="M53.5,789 C53.92,787.83 54.92,784.33 56,782 C57.08,779.67 58.58,776.75 60,775 C61.42,773.25 63.17,771.67 64.5,771.5 C65.83,771.33 66.92,772.5 68,774 C69.08,775.5 69.83,774.42 71,780.5 C72.17,786.58 74.33,805.5 75,810.5 L75,810.1 L53.5,810.1 Z" fill="#111" stroke="#111" stroke-width="0.8"/>
<path d="M54.5,810.5 C55.58,808.83 59.08,803.83 61,800.5 C62.92,797.17 64.5,793.83 66,790.5 C67.5,787.17 68.67,783.33 70,780.5 C71.33,777.67 72.75,775.08 74,773.5 C75.25,771.92 76.5,771.17 77.5,771 C78.5,770.83 79.25,771.58 80,772.5 C80.75,773.42 80.75,770.17 82,776.5 C83.25,782.83 86.58,804.83 87.5,810.5 L87.5,810.1 L54.5,810.1 Z" fill="#fff" stroke="none"/>
<path d="M54.5,810.5 C55.58,808.83 59.08,803.83 61,800.5 C62.92,797.17 64.5,793.83 66,790.5 C67.5,787.17 68.67,783.33 70,780.5 C71.33,777.67 72.75,775.08 74,773.5 C75.25,771.92 76.5,771.17 77.5,771 C78.5,770.83 79.25,771.58 80,772.5 C80.75,773.42 80.75,770.17 82,776.5 C83.25,782.83 86.58,804.83 87.5,810.5" fill="none" stroke="#111" stroke-width="1.3" stroke-linejoin="round"/>
<path d="M57,810.5 C58,809.67 60.92,807.83 63,805.5 C65.08,803.17 67.38,799.67 69.5,796.5 C71.62,793.33 73.88,789.62 75.75,786.5 C77.62,783.38 79.12,780.25 80.75,777.75 C82.38,775.25 84.21,772.75 85.5,771.5 C86.79,770.25 87.58,769.83 88.5,770.25 C89.42,770.67 90.08,771.92 91,774 C91.92,776.08 92.92,779.42 94,782.75 C95.08,786.08 96.29,790.67 97.5,794 C98.71,797.33 99.79,800.33 101.25,802.75 C102.71,805.17 104.46,807.21 106.25,808.5 C108.04,809.79 111.04,810.17 112,810.5 L112,810.1 L57,810.1 Z" fill="#8c8c8c" stroke="#8c8c8c" stroke-width="0.5"/>
<path d="M54.5,778.5 C54.92,776.92 56,771.75 57,769 C58,766.25 59.33,763.5 60.5,762 C61.67,760.5 62.92,759.5 64,760 C65.08,760.5 66,762.5 67,765 C68,767.5 69.5,773.33 70,775" fill="none" stroke="#fff" stroke-width="1.6" stroke-dasharray="3.8 1.9" stroke-dashoffset="3.8" opacity="0.9"/>
<path d="M54.5,778.5 C54.92,776.92 56,771.75 57,769 C58,766.25 59.33,763.5 60.5,762 C61.67,760.5 62.92,759.5 64,760 C65.08,760.5 66,762.5 67,765 C68,767.5 69.5,773.33 70,775" fill="none" stroke="#111" stroke-width="1.4" stroke-dasharray="3.8 1.9"/>
</g>
<text transform="translate(170.2,769) scale(1,1.06)" font-size="15.45" text-anchor="end" fill="#111" stroke="#111" stroke-width="0.5" font-family="Liberation Sans, sans-serif" font-weight="bold">MICA/B</text>
<rect x="53.9" y="695.5" width="118.4" height="114.6" fill="none" stroke="#111" stroke-width="1.7" />
<line x1="53.9" y1="752.9" x2="172.3" y2="752.9" stroke="#111" stroke-width="1.7" />
<text x="4" y="95.1" font-size="13" text-anchor="start" fill="#111" stroke="#111" stroke-width="0.5" font-family="Liberation Sans, sans-serif" font-weight="bold" >M2</text>
<text x="4" y="221.6" font-size="13" text-anchor="start" fill="#111" stroke="#111" stroke-width="0.5" font-family="Liberation Sans, sans-serif" font-weight="bold" >M2</text>
<text x="4" y="347.5" font-size="13" text-anchor="start" fill="#111" stroke="#111" stroke-width="0.5" font-family="Liberation Sans, sans-serif" font-weight="bold" >M2</text>
<text x="4" y="503.6" font-size="13" text-anchor="start" fill="#111" stroke="#111" stroke-width="0.5" font-family="Liberation Sans, sans-serif" font-weight="bold" >M4</text>
<text x="4" y="629.6" font-size="13" text-anchor="start" fill="#111" stroke="#111" stroke-width="0.5" font-family="Liberation Sans, sans-serif" font-weight="bold" >M2</text>
<text x="4" y="759.3" font-size="13" text-anchor="start" fill="#111" stroke="#111" stroke-width="0.5" font-family="Liberation Sans, sans-serif" font-weight="bold" >M2</text>
<path d="M42.5,28.3 L36.9,38.8 L48.1,38.8 Z" fill="#111"/>
<line x1="42.5" y1="38" x2="42.5" y2="168" stroke="#111" stroke-width="1.3" />
<line x1="42.5" y1="250" x2="42.5" y2="400" stroke="#111" stroke-width="1.3" />
<text transform="translate(46.1,211) rotate(-90)" font-size="13" text-anchor="middle" fill="#111" stroke="#111" stroke-width="0.5" font-family="Liberation Sans, sans-serif" font-weight="bold">cell count</text>
<path d="M42.1,441 L36.5,451.5 L47.7,451.5 Z" fill="#111"/>
<line x1="42.1" y1="450" x2="42.1" y2="582" stroke="#111" stroke-width="1.3" />
<line x1="42.1" y1="662.5" x2="42.1" y2="810" stroke="#111" stroke-width="1.3" />
<text transform="translate(45.9,624.5) rotate(-90)" font-size="13" text-anchor="middle" fill="#111" stroke="#111" stroke-width="0.5" font-family="Liberation Sans, sans-serif" font-weight="bold">cell count</text>
<text x="113.8" y="417.2" font-size="13.1" text-anchor="middle" fill="#111" stroke="#111" stroke-width="0.5" font-family="Liberation Sans, sans-serif" font-weight="bold" >Log Fluorescence</text>
<text x="111.9" y="829.7" font-size="13.1" text-anchor="middle" fill="#111" stroke="#111" stroke-width="0.5" font-family="Liberation Sans, sans-serif" font-weight="bold" >Log Fluorescence</text>
<path d="M62.2,865.6 V862.8 H66 M68.2,862.8 H72.4 M74.6,862.8 H78.4 V865.6 M62.2,866.4 V868.4 H66 M68.2,868.4 H72.4 M74.6,868.4 H78.4 V866.4" fill="none" stroke="#111" stroke-width="1.5"/>
<rect x="61.9" y="876.9" width="16.4" height="6.8" fill="#111" stroke="#111" stroke-width="0.4" />
<rect x="62.5" y="890.9" width="15.4" height="5.4" fill="#fff" stroke="#111" stroke-width="1.4" />
<rect x="61.9" y="903.5" width="16.8" height="7" fill="#8c8c8c" stroke="#8c8c8c" stroke-width="0.4" />
<text x="87.4" y="870.2" font-size="12.5" text-anchor="start" fill="#111" stroke="#111" stroke-width="0.48" font-family="Liberation Sans, sans-serif" font-weight="bold" >IgG1 isotype</text>
<text x="87.4" y="883.7" font-size="12.5" text-anchor="start" fill="#111" stroke="#111" stroke-width="0.48" font-family="Liberation Sans, sans-serif" font-weight="bold" >day 0</text>
<text x="87.4" y="897.1" font-size="12.5" text-anchor="start" fill="#111" stroke="#111" stroke-width="0.48" font-family="Liberation Sans, sans-serif" font-weight="bold" >Medium, day 2</text>
<text x="87.4" y="910.6" font-size="12.5" text-anchor="start" fill="#111" stroke="#111" stroke-width="0.48" font-family="Liberation Sans, sans-serif" font-weight="bold" >VA, day 2</text>
<path d="M201.6,28.6 L196,39.1 L207.2,39.1 Z" fill="#111"/>
<line x1="201.6" y1="38" x2="201.6" y2="148.5" stroke="#111" stroke-width="1.3" />
<line x1="201.6" y1="262" x2="201.6" y2="400.5" stroke="#111" stroke-width="1.3" />
<text transform="translate(205.2,206) rotate(-90)" font-size="13" text-anchor="middle" fill="#111" stroke="#111" stroke-width="0.5" font-family="Liberation Sans, sans-serif" font-weight="bold">% specific lysis</text>
<path d="M201.5,441 L195.9,451.5 L207.1,451.5 Z" fill="#111"/>
<line x1="201.5" y1="450" x2="201.5" y2="564" stroke="#111" stroke-width="1.3" />
<line x1="201.5" y1="671" x2="201.5" y2="810" stroke="#111" stroke-width="1.3" />
<text transform="translate(205.2,617.6) rotate(-90)" font-size="13" text-anchor="middle" fill="#111" stroke="#111" stroke-width="0.5" font-family="Liberation Sans, sans-serif" font-weight="bold">% specific lysis</text>
<polyline points="250.8,105.3 277.9,95.5 304.2,114.8 333.1,121.4 358.6,130.2" fill="none" stroke="#8c8c8c" stroke-width="1.5"/>
<polyline points="250.8,134.3 277.9,140.5 304.2,144.3 333.1,145.5 358.6,145.5" fill="none" stroke="#111" stroke-width="1.4"/>
<circle cx="250.8" cy="105.3" r="2.9" fill="#8c8c8c"/>
<circle cx="277.9" cy="95.5" r="2.9" fill="#8c8c8c"/>
<circle cx="304.2" cy="114.8" r="2.9" fill="#8c8c8c"/>
<circle cx="333.1" cy="121.4" r="2.9" fill="#8c8c8c"/>
<circle cx="358.6" cy="130.2" r="2.9" fill="#8c8c8c"/>
<circle cx="250.8" cy="134.3" r="2.4" fill="#fff" stroke="#111" stroke-width="1.2"/>
<circle cx="277.9" cy="140.5" r="2.4" fill="#fff" stroke="#111" stroke-width="1.2"/>
<circle cx="304.2" cy="144.3" r="2.4" fill="#fff" stroke="#111" stroke-width="1.2"/>
<circle cx="333.1" cy="145.5" r="2.4" fill="#fff" stroke="#111" stroke-width="1.2"/>
<circle cx="358.6" cy="145.5" r="2.4" fill="#fff" stroke="#111" stroke-width="1.2"/>
<rect x="236.4" y="28.7" width="131.4" height="117.6" fill="none" stroke="#111" stroke-width="1.45" />
<line x1="233.2" y1="41.3" x2="236.4" y2="41.3" stroke="#111" stroke-width="1.2" />
<text x="232.2" y="45.9" font-size="13" text-anchor="end" fill="#111" stroke="#111" stroke-width="0.5" font-family="Liberation Sans, sans-serif" font-weight="bold" >80</text>
<line x1="233.2" y1="67.5" x2="236.4" y2="67.5" stroke="#111" stroke-width="1.2" />
<text x="232.2" y="72.1" font-size="13" text-anchor="end" fill="#111" stroke="#111" stroke-width="0.5" font-family="Liberation Sans, sans-serif" font-weight="bold" >60</text>
<line x1="233.2" y1="93.8" x2="236.4" y2="93.8" stroke="#111" stroke-width="1.2" />
<text x="232.2" y="98.4" font-size="13" text-anchor="end" fill="#111" stroke="#111" stroke-width="0.5" font-family="Liberation Sans, sans-serif" font-weight="bold" >40</text>
<line x1="233.2" y1="120" x2="236.4" y2="120" stroke="#111" stroke-width="1.2" />
<text x="232.2" y="124.6" font-size="13" text-anchor="end" fill="#111" stroke="#111" stroke-width="0.5" font-family="Liberation Sans, sans-serif" font-weight="bold" >20</text>
<line x1="233.2" y1="146.3" x2="236.4" y2="146.3" stroke="#111" stroke-width="1.2" />
<text x="232.2" y="149.2" font-size="13" text-anchor="end" fill="#111" stroke="#111" stroke-width="0.5" font-family="Liberation Sans, sans-serif" font-weight="bold" >0</text>
<line x1="234.4" y1="54.4" x2="236.4" y2="54.4" stroke="#111" stroke-width="1" />
<line x1="234.4" y1="80.6" x2="236.4" y2="80.6" stroke="#111" stroke-width="1" />
<line x1="234.4" y1="106.9" x2="236.4" y2="106.9" stroke="#111" stroke-width="1" />
<line x1="234.4" y1="133.1" x2="236.4" y2="133.1" stroke="#111" stroke-width="1" />
<polyline points="250.8,61.1 277.9,63.6 304.2,69.2 333.1,81.6 358.6,103.8" fill="none" stroke="#8c8c8c" stroke-width="1.5"/>
<polyline points="250.8,81.1 277.9,89.9 304.2,101 333.1,116.2 358.6,125.4" fill="none" stroke="#111" stroke-width="1.5"/>
<rect x="247.9" y="58.2" width="5.8" height="5.8" fill="#8c8c8c"/>
<rect x="275" y="60.7" width="5.8" height="5.8" fill="#8c8c8c"/>
<rect x="301.3" y="66.3" width="5.8" height="5.8" fill="#8c8c8c"/>
<rect x="330.2" y="78.7" width="5.8" height="5.8" fill="#8c8c8c"/>
<rect x="355.7" y="100.9" width="5.8" height="5.8" fill="#8c8c8c"/>
<rect x="248.5" y="78.8" width="4.6" height="4.6" fill="#fff" stroke="#111" stroke-width="1.3"/>
<rect x="275.6" y="87.6" width="4.6" height="4.6" fill="#fff" stroke="#111" stroke-width="1.3"/>
<rect x="301.9" y="98.7" width="4.6" height="4.6" fill="#fff" stroke="#111" stroke-width="1.3"/>
<rect x="330.8" y="113.9" width="4.6" height="4.6" fill="#fff" stroke="#111" stroke-width="1.3"/>
<rect x="356.3" y="123.1" width="4.6" height="4.6" fill="#fff" stroke="#111" stroke-width="1.3"/>
<path d="M243.8,60.5 H239.8 V80.6 H243.8" fill="none" stroke="#111" stroke-width="1.2"/>
<text x="248.3" y="79.4" font-size="14" text-anchor="middle" fill="#111" stroke="#111" stroke-width="0.54" font-family="Liberation Sans, sans-serif" font-weight="bold" >**</text>
<path d="M243.8,104.8 H239.8 V133.9 H243.8" fill="none" stroke="#111" stroke-width="1.2"/>
<text x="248.3" y="128.5" font-size="14" text-anchor="middle" fill="#111" stroke="#111" stroke-width="0.54" font-family="Liberation Sans, sans-serif" font-weight="bold" >**</text>
<polyline points="250,272.6 277.1,272.6 303.4,272.6 332.3,272.6 357.8,272.6" fill="none" stroke="#8c8c8c" stroke-width="1.5"/>
<polyline points="250,268.9 277.1,270.1 303.4,272 332.3,272.1 357.8,272.1" fill="none" stroke="#111" stroke-width="1.4"/>
<circle cx="250" cy="272.6" r="2.9" fill="#8c8c8c"/>
<circle cx="277.1" cy="272.6" r="2.9" fill="#8c8c8c"/>
<circle cx="303.4" cy="272.6" r="2.9" fill="#8c8c8c"/>
<circle cx="332.3" cy="272.6" r="2.9" fill="#8c8c8c"/>
<circle cx="357.8" cy="272.6" r="2.9" fill="#8c8c8c"/>
<circle cx="250" cy="268.9" r="2.4" fill="#fff" stroke="#111" stroke-width="1.2"/>
<circle cx="277.1" cy="270.1" r="2.4" fill="#fff" stroke="#111" stroke-width="1.2"/>
<circle cx="303.4" cy="272" r="2.4" fill="#fff" stroke="#111" stroke-width="1.2"/>
<circle cx="332.3" cy="272.1" r="2.4" fill="#fff" stroke="#111" stroke-width="1.2"/>
<circle cx="357.8" cy="272.1" r="2.4" fill="#fff" stroke="#111" stroke-width="1.2"/>
<rect x="235.4" y="154.7" width="132.9" height="117.5" fill="none" stroke="#111" stroke-width="1.45" />
<line x1="232.2" y1="171.5" x2="235.4" y2="171.5" stroke="#111" stroke-width="1.2" />
<text x="231.2" y="176.1" font-size="13" text-anchor="end" fill="#111" stroke="#111" stroke-width="0.5" font-family="Liberation Sans, sans-serif" font-weight="bold" >60</text>
<line x1="232.2" y1="205" x2="235.4" y2="205" stroke="#111" stroke-width="1.2" />
<text x="231.2" y="209.6" font-size="13" text-anchor="end" fill="#111" stroke="#111" stroke-width="0.5" font-family="Liberation Sans, sans-serif" font-weight="bold" >40</text>
<line x1="232.2" y1="238.5" x2="235.4" y2="238.5" stroke="#111" stroke-width="1.2" />
<text x="231.2" y="243.1" font-size="13" text-anchor="end" fill="#111" stroke="#111" stroke-width="0.5" font-family="Liberation Sans, sans-serif" font-weight="bold" >20</text>
<line x1="232.2" y1="272.2" x2="235.4" y2="272.2" stroke="#111" stroke-width="1.2" />
<text x="231.2" y="274.4" font-size="13" text-anchor="end" fill="#111" stroke="#111" stroke-width="0.5" font-family="Liberation Sans, sans-serif" font-weight="bold" >0</text>
<line x1="233.4" y1="188.25" x2="235.4" y2="188.25" stroke="#111" stroke-width="1" />
<line x1="233.4" y1="221.75" x2="235.4" y2="221.75" stroke="#111" stroke-width="1" />
<line x1="233.4" y1="255.25" x2="235.4" y2="255.25" stroke="#111" stroke-width="1" />
<polyline points="250,180 277.1,202.7 303.4,218.9 332.3,234.2 357.8,243.8" fill="none" stroke="#8c8c8c" stroke-width="1.5"/>
<polyline points="250,209.2 277.1,217.5 303.4,227.2 332.3,239.7 357.8,250.1" fill="none" stroke="#111" stroke-width="1.5"/>
<rect x="247.1" y="177.1" width="5.8" height="5.8" fill="#8c8c8c"/>
<rect x="274.2" y="199.8" width="5.8" height="5.8" fill="#8c8c8c"/>
<rect x="300.5" y="216" width="5.8" height="5.8" fill="#8c8c8c"/>
<rect x="329.4" y="231.3" width="5.8" height="5.8" fill="#8c8c8c"/>
<rect x="354.9" y="240.9" width="5.8" height="5.8" fill="#8c8c8c"/>
<rect x="247.7" y="206.9" width="4.6" height="4.6" fill="#fff" stroke="#111" stroke-width="1.3"/>
<rect x="274.8" y="215.2" width="4.6" height="4.6" fill="#fff" stroke="#111" stroke-width="1.3"/>
<rect x="301.1" y="224.9" width="4.6" height="4.6" fill="#fff" stroke="#111" stroke-width="1.3"/>
<rect x="330" y="237.4" width="4.6" height="4.6" fill="#fff" stroke="#111" stroke-width="1.3"/>
<rect x="355.5" y="247.8" width="4.6" height="4.6" fill="#fff" stroke="#111" stroke-width="1.3"/>
<path d="M243.2,179 H239.2 V207.5 H243.2" fill="none" stroke="#111" stroke-width="1.2"/>
<text x="243.8" y="203.1" font-size="14" text-anchor="middle" fill="#111" stroke="#111" stroke-width="0.54" font-family="Liberation Sans, sans-serif" font-weight="bold" >*</text>
<rect x="236.1" y="280.5" width="132.2" height="116.8" fill="none" stroke="#111" stroke-width="1.45" />
<line x1="232.9" y1="280.9" x2="236.1" y2="280.9" stroke="#111" stroke-width="1.2" />
<text x="231.9" y="288.5" font-size="13" text-anchor="end" fill="#111" stroke="#111" stroke-width="0.5" font-family="Liberation Sans, sans-serif" font-weight="bold" >100</text>
<line x1="232.9" y1="304.2" x2="236.1" y2="304.2" stroke="#111" stroke-width="1.2" />
<text x="231.9" y="310" font-size="13" text-anchor="end" fill="#111" stroke="#111" stroke-width="0.5" font-family="Liberation Sans, sans-serif" font-weight="bold" >80</text>
<line x1="232.9" y1="327.4" x2="236.1" y2="327.4" stroke="#111" stroke-width="1.2" />
<text x="231.9" y="332.4" font-size="13" text-anchor="end" fill="#111" stroke="#111" stroke-width="0.5" font-family="Liberation Sans, sans-serif" font-weight="bold" >60</text>
<line x1="232.9" y1="350.7" x2="236.1" y2="350.7" stroke="#111" stroke-width="1.2" />
<text x="231.9" y="356.5" font-size="13" text-anchor="end" fill="#111" stroke="#111" stroke-width="0.5" font-family="Liberation Sans, sans-serif" font-weight="bold" >40</text>
<line x1="232.9" y1="374" x2="236.1" y2="374" stroke="#111" stroke-width="1.2" />
<text x="231.9" y="379.8" font-size="13" text-anchor="end" fill="#111" stroke="#111" stroke-width="0.5" font-family="Liberation Sans, sans-serif" font-weight="bold" >20</text>
<line x1="232.9" y1="397.3" x2="236.1" y2="397.3" stroke="#111" stroke-width="1.2" />
<text x="231.9" y="399.5" font-size="13" text-anchor="end" fill="#111" stroke="#111" stroke-width="0.5" font-family="Liberation Sans, sans-serif" font-weight="bold" >0</text>
<line x1="234.1" y1="292.55" x2="236.1" y2="292.55" stroke="#111" stroke-width="1" />
<line x1="234.1" y1="315.85" x2="236.1" y2="315.85" stroke="#111" stroke-width="1" />
<line x1="234.1" y1="339.05" x2="236.1" y2="339.05" stroke="#111" stroke-width="1" />
<line x1="234.1" y1="362.35" x2="236.1" y2="362.35" stroke="#111" stroke-width="1" />
<line x1="234.1" y1="385.65" x2="236.1" y2="385.65" stroke="#111" stroke-width="1" />
<polyline points="250.4,306.3 277.5,322.1 303.8,328.3 332.7,340.8 358.2,357.4" fill="none" stroke="#8c8c8c" stroke-width="1.5"/>
<polyline points="250.4,322.7 277.5,329.7 303.8,335.6 332.7,346.7 358.2,362.3" fill="none" stroke="#111" stroke-width="1.5"/>
<rect x="247.5" y="303.4" width="5.8" height="5.8" fill="#8c8c8c"/>
<rect x="274.6" y="319.2" width="5.8" height="5.8" fill="#8c8c8c"/>
<rect x="300.9" y="325.4" width="5.8" height="5.8" fill="#8c8c8c"/>
<rect x="329.8" y="337.9" width="5.8" height="5.8" fill="#8c8c8c"/>
<rect x="355.3" y="354.5" width="5.8" height="5.8" fill="#8c8c8c"/>
<rect x="248.1" y="320.4" width="4.6" height="4.6" fill="#fff" stroke="#111" stroke-width="1.3"/>
<rect x="275.2" y="327.4" width="4.6" height="4.6" fill="#fff" stroke="#111" stroke-width="1.3"/>
<rect x="301.5" y="333.3" width="4.6" height="4.6" fill="#fff" stroke="#111" stroke-width="1.3"/>
<rect x="330.4" y="344.4" width="4.6" height="4.6" fill="#fff" stroke="#111" stroke-width="1.3"/>
<rect x="355.9" y="360" width="4.6" height="4.6" fill="#fff" stroke="#111" stroke-width="1.3"/>
<path d="M243.8,304.8 H239.8 V325 H243.8" fill="none" stroke="#111" stroke-width="1.2"/>
<text x="246.6" y="323.6" font-size="14" text-anchor="middle" fill="#111" stroke="#111" stroke-width="0.54" font-family="Liberation Sans, sans-serif" font-weight="bold" >*</text>
<text x="250.4" y="413.2" font-size="13" text-anchor="middle" fill="#111" stroke="#111" stroke-width="0.5" font-family="Liberation Sans, sans-serif" font-weight="bold" >10</text>
<text x="275.6" y="413.2" font-size="13" text-anchor="middle" fill="#111" stroke="#111" stroke-width="0.5" font-family="Liberation Sans, sans-serif" font-weight="bold" >5</text>
<text x="303.6" y="413.2" font-size="13" text-anchor="middle" fill="#111" stroke="#111" stroke-width="0.5" font-family="Liberation Sans, sans-serif" font-weight="bold" >2.5</text>
<text x="332.8" y="413.2" font-size="13" text-anchor="middle" fill="#111" stroke="#111" stroke-width="0.5" font-family="Liberation Sans, sans-serif" font-weight="bold" >1.2</text>
<text x="358.6" y="413.2" font-size="13" text-anchor="middle" fill="#111" stroke="#111" stroke-width="0.5" font-family="Liberation Sans, sans-serif" font-weight="bold" >0.6</text>
<text x="307.4" y="428.1" font-size="13" text-anchor="middle" fill="#111" stroke="#111" stroke-width="0.5" font-family="Liberation Sans, sans-serif" font-weight="bold" >E:T ratio</text>
<polyline points="250.5,549.3 277.6,552.4 303.9,546.2 332.8,549.5 358.3,550.9" fill="none" stroke="#8c8c8c" stroke-width="1.5"/>
<polyline points="250.5,557.4 277.6,557.4 303.9,552.4 332.8,554.2 358.3,548.8" fill="none" stroke="#111" stroke-width="1.4"/>
<circle cx="250.5" cy="549.3" r="2.9" fill="#8c8c8c"/>
<circle cx="277.6" cy="552.4" r="2.9" fill="#8c8c8c"/>
<circle cx="303.9" cy="546.2" r="2.9" fill="#8c8c8c"/>
<circle cx="332.8" cy="549.5" r="2.9" fill="#8c8c8c"/>
<circle cx="358.3" cy="550.9" r="2.9" fill="#8c8c8c"/>
<circle cx="250.5" cy="557.4" r="2.4" fill="#fff" stroke="#111" stroke-width="1.2"/>
<circle cx="277.6" cy="557.4" r="2.4" fill="#fff" stroke="#111" stroke-width="1.2"/>
<circle cx="303.9" cy="552.4" r="2.4" fill="#fff" stroke="#111" stroke-width="1.2"/>
<circle cx="332.8" cy="554.2" r="2.4" fill="#fff" stroke="#111" stroke-width="1.2"/>
<circle cx="358.3" cy="548.8" r="2.4" fill="#fff" stroke="#111" stroke-width="1.2"/>
<rect x="236.4" y="441.8" width="135" height="116" fill="none" stroke="#111" stroke-width="1.45" />
<line x1="233.2" y1="465.9" x2="236.4" y2="465.9" stroke="#111" stroke-width="1.2" />
<text x="232.2" y="470.5" font-size="13" text-anchor="end" fill="#111" stroke="#111" stroke-width="0.5" font-family="Liberation Sans, sans-serif" font-weight="bold" >40</text>
<line x1="233.2" y1="511.9" x2="236.4" y2="511.9" stroke="#111" stroke-width="1.2" />
<text x="232.2" y="516.5" font-size="13" text-anchor="end" fill="#111" stroke="#111" stroke-width="0.5" font-family="Liberation Sans, sans-serif" font-weight="bold" >20</text>
<line x1="233.2" y1="557.8" x2="236.4" y2="557.8" stroke="#111" stroke-width="1.2" />
<text x="232.2" y="560.5" font-size="13" text-anchor="end" fill="#111" stroke="#111" stroke-width="0.5" font-family="Liberation Sans, sans-serif" font-weight="bold" >0</text>
<line x1="234.4" y1="488.9" x2="236.4" y2="488.9" stroke="#111" stroke-width="1" />
<line x1="234.4" y1="534.9" x2="236.4" y2="534.9" stroke="#111" stroke-width="1" />
<polyline points="250.5,466.3 277.6,478.2 303.9,491 332.8,508.9 358.3,530.1" fill="none" stroke="#8c8c8c" stroke-width="1.5"/>
<polyline points="250.5,488.5 277.6,503.1 303.9,512.2 332.8,523.9 358.3,535.6" fill="none" stroke="#111" stroke-width="1.5"/>
<rect x="247.6" y="463.4" width="5.8" height="5.8" fill="#8c8c8c"/>
<rect x="274.7" y="475.3" width="5.8" height="5.8" fill="#8c8c8c"/>
<rect x="301" y="488.1" width="5.8" height="5.8" fill="#8c8c8c"/>
<rect x="329.9" y="506" width="5.8" height="5.8" fill="#8c8c8c"/>
<rect x="355.4" y="527.2" width="5.8" height="5.8" fill="#8c8c8c"/>
<rect x="248.2" y="486.2" width="4.6" height="4.6" fill="#fff" stroke="#111" stroke-width="1.3"/>
<rect x="275.3" y="500.8" width="4.6" height="4.6" fill="#fff" stroke="#111" stroke-width="1.3"/>
<rect x="301.6" y="509.9" width="4.6" height="4.6" fill="#fff" stroke="#111" stroke-width="1.3"/>
<rect x="330.5" y="521.6" width="4.6" height="4.6" fill="#fff" stroke="#111" stroke-width="1.3"/>
<rect x="356" y="533.3" width="4.6" height="4.6" fill="#fff" stroke="#111" stroke-width="1.3"/>
<path d="M243.5,465.3 H239.5 V488.1 H243.5" fill="none" stroke="#111" stroke-width="1.2"/>
<text x="248.2" y="486.3" font-size="14" text-anchor="middle" fill="#111" stroke="#111" stroke-width="0.54" font-family="Liberation Sans, sans-serif" font-weight="bold" >**</text>
<polyline points="250.4,668.5 277.5,683.6 303.8,682.2 332.7,681.1 358.2,683.6" fill="none" stroke="#8c8c8c" stroke-width="1.5"/>
<polyline points="250.4,676.3 277.5,674.8 303.8,678.9 332.7,677.8 358.2,678.1" fill="none" stroke="#111" stroke-width="1.4"/>
<circle cx="250.4" cy="668.5" r="2.9" fill="#8c8c8c"/>
<circle cx="277.5" cy="683.6" r="2.9" fill="#8c8c8c"/>
<circle cx="303.8" cy="682.2" r="2.9" fill="#8c8c8c"/>
<circle cx="332.7" cy="681.1" r="2.9" fill="#8c8c8c"/>
<circle cx="358.2" cy="683.6" r="2.9" fill="#8c8c8c"/>
<circle cx="250.4" cy="676.3" r="2.4" fill="#fff" stroke="#111" stroke-width="1.2"/>
<circle cx="277.5" cy="674.8" r="2.4" fill="#fff" stroke="#111" stroke-width="1.2"/>
<circle cx="303.8" cy="678.9" r="2.4" fill="#fff" stroke="#111" stroke-width="1.2"/>
<circle cx="332.7" cy="677.8" r="2.4" fill="#fff" stroke="#111" stroke-width="1.2"/>
<circle cx="358.2" cy="678.1" r="2.4" fill="#fff" stroke="#111" stroke-width="1.2"/>
<rect x="236.4" y="567.8" width="135" height="116.4" fill="none" stroke="#111" stroke-width="1.45" />
<line x1="233.2" y1="584.8" x2="236.4" y2="584.8" stroke="#111" stroke-width="1.2" />
<text x="232.2" y="589.4" font-size="13" text-anchor="end" fill="#111" stroke="#111" stroke-width="0.5" font-family="Liberation Sans, sans-serif" font-weight="bold" >60</text>
<line x1="233.2" y1="618" x2="236.4" y2="618" stroke="#111" stroke-width="1.2" />
<text x="232.2" y="622.6" font-size="13" text-anchor="end" fill="#111" stroke="#111" stroke-width="0.5" font-family="Liberation Sans, sans-serif" font-weight="bold" >40</text>
<line x1="233.2" y1="651.1" x2="236.4" y2="651.1" stroke="#111" stroke-width="1.2" />
<text x="232.2" y="655.7" font-size="13" text-anchor="end" fill="#111" stroke="#111" stroke-width="0.5" font-family="Liberation Sans, sans-serif" font-weight="bold" >20</text>
<line x1="233.2" y1="684.2" x2="236.4" y2="684.2" stroke="#111" stroke-width="1.2" />
<text x="232.2" y="686.8" font-size="13" text-anchor="end" fill="#111" stroke="#111" stroke-width="0.5" font-family="Liberation Sans, sans-serif" font-weight="bold" >0</text>
<line x1="234.4" y1="601.4" x2="236.4" y2="601.4" stroke="#111" stroke-width="1" />
<line x1="234.4" y1="634.6" x2="236.4" y2="634.6" stroke="#111" stroke-width="1" />
<line x1="234.4" y1="667.7" x2="236.4" y2="667.7" stroke="#111" stroke-width="1" />
<polyline points="250.4,601.1 277.5,606.9 303.8,606.9 332.7,616 358.2,632.5" fill="none" stroke="#8c8c8c" stroke-width="1.5"/>
<polyline points="250.4,610.9 277.5,619.7 303.8,627 332.7,651.1 358.2,668.6" fill="none" stroke="#111" stroke-width="1.5"/>
<rect x="247.5" y="598.2" width="5.8" height="5.8" fill="#8c8c8c"/>
<rect x="274.6" y="604" width="5.8" height="5.8" fill="#8c8c8c"/>
<rect x="300.9" y="604" width="5.8" height="5.8" fill="#8c8c8c"/>
<rect x="329.8" y="613.1" width="5.8" height="5.8" fill="#8c8c8c"/>
<rect x="355.3" y="629.6" width="5.8" height="5.8" fill="#8c8c8c"/>
<rect x="248.1" y="608.6" width="4.6" height="4.6" fill="#fff" stroke="#111" stroke-width="1.3"/>
<rect x="275.2" y="617.4" width="4.6" height="4.6" fill="#fff" stroke="#111" stroke-width="1.3"/>
<rect x="301.5" y="624.7" width="4.6" height="4.6" fill="#fff" stroke="#111" stroke-width="1.3"/>
<rect x="330.4" y="648.8" width="4.6" height="4.6" fill="#fff" stroke="#111" stroke-width="1.3"/>
<rect x="355.9" y="666.3" width="4.6" height="4.6" fill="#fff" stroke="#111" stroke-width="1.3"/>
<path d="M244.2,599.2 H240.2 V612.6 H244.2" fill="none" stroke="#111" stroke-width="1.2"/>
<text x="247.2" y="601" font-size="14" text-anchor="middle" fill="#111" stroke="#111" stroke-width="0.54" font-family="Liberation Sans, sans-serif" font-weight="bold" >**</text>
<polyline points="250.8,808.9 277.9,809.6 304.2,810.6 333.1,810.6 358.6,810.6" fill="none" stroke="#8c8c8c" stroke-width="1.5"/>
<polyline points="250.8,808.5 277.9,809.2 304.2,810.6 333.1,810.6 358.6,810.6" fill="none" stroke="#111" stroke-width="1.4"/>
<circle cx="250.8" cy="808.5" r="2.4" fill="#fff" stroke="#111" stroke-width="1.2"/>
<circle cx="277.9" cy="809.2" r="2.4" fill="#fff" stroke="#111" stroke-width="1.2"/>
<circle cx="304.2" cy="810.6" r="2.4" fill="#fff" stroke="#111" stroke-width="1.2"/>
<circle cx="333.1" cy="810.6" r="2.4" fill="#fff" stroke="#111" stroke-width="1.2"/>
<circle cx="358.6" cy="810.6" r="2.4" fill="#fff" stroke="#111" stroke-width="1.2"/>
<rect x="235.5" y="693.7" width="134.7" height="117.1" fill="none" stroke="#111" stroke-width="1.45" />
<line x1="232.3" y1="694.2" x2="235.5" y2="694.2" stroke="#111" stroke-width="1.2" />
<text x="231.3" y="702.2" font-size="13" text-anchor="end" fill="#111" stroke="#111" stroke-width="0.5" font-family="Liberation Sans, sans-serif" font-weight="bold" >100</text>
<line x1="232.3" y1="717.4" x2="235.5" y2="717.4" stroke="#111" stroke-width="1.2" />
<text x="231.3" y="723.8" font-size="13" text-anchor="end" fill="#111" stroke="#111" stroke-width="0.5" font-family="Liberation Sans, sans-serif" font-weight="bold" >80</text>
<line x1="232.3" y1="740.7" x2="235.5" y2="740.7" stroke="#111" stroke-width="1.2" />
<text x="231.3" y="745.3" font-size="13" text-anchor="end" fill="#111" stroke="#111" stroke-width="0.5" font-family="Liberation Sans, sans-serif" font-weight="bold" >60</text>
<line x1="232.3" y1="764.3" x2="235.5" y2="764.3" stroke="#111" stroke-width="1.2" />
<text x="231.3" y="770.3" font-size="13" text-anchor="end" fill="#111" stroke="#111" stroke-width="0.5" font-family="Liberation Sans, sans-serif" font-weight="bold" >40</text>
<line x1="232.3" y1="787.7" x2="235.5" y2="787.7" stroke="#111" stroke-width="1.2" />
<text x="231.3" y="793.5" font-size="13" text-anchor="end" fill="#111" stroke="#111" stroke-width="0.5" font-family="Liberation Sans, sans-serif" font-weight="bold" >20</text>
<line x1="232.3" y1="810.8" x2="235.5" y2="810.8" stroke="#111" stroke-width="1.2" />
<text x="231.3" y="813.2" font-size="13" text-anchor="end" fill="#111" stroke="#111" stroke-width="0.5" font-family="Liberation Sans, sans-serif" font-weight="bold" >0</text>
<line x1="233.5" y1="705.8" x2="235.5" y2="705.8" stroke="#111" stroke-width="1" />
<line x1="233.5" y1="729" x2="235.5" y2="729" stroke="#111" stroke-width="1" />
<line x1="233.5" y1="752.3" x2="235.5" y2="752.3" stroke="#111" stroke-width="1" />
<line x1="233.5" y1="775.9" x2="235.5" y2="775.9" stroke="#111" stroke-width="1" />
<line x1="233.5" y1="799.3" x2="235.5" y2="799.3" stroke="#111" stroke-width="1" />
<circle cx="251.4" cy="808.9" r="2.5" fill="#8c8c8c" stroke="#333" stroke-width="1"/>
<circle cx="278.5" cy="809.6" r="2.5" fill="#8c8c8c" stroke="#333" stroke-width="1"/>
<circle cx="304.8" cy="810.6" r="2.5" fill="#8c8c8c" stroke="#333" stroke-width="1"/>
<circle cx="333.7" cy="810.6" r="2.5" fill="#8c8c8c" stroke="#333" stroke-width="1"/>
<circle cx="359.2" cy="810.6" r="2.5" fill="#8c8c8c" stroke="#333" stroke-width="1"/>
<polyline points="250.8,725.9 277.9,729.7 304.2,741 333.1,755.6 358.6,767.7" fill="none" stroke="#8c8c8c" stroke-width="1.5"/>
<polyline points="250.8,732.7 277.9,736.3 304.2,750.5 333.1,765.1" fill="none" stroke="#111" stroke-width="1.5"/>
<rect x="247.9" y="723" width="5.8" height="5.8" fill="#8c8c8c"/>
<rect x="275" y="726.8" width="5.8" height="5.8" fill="#8c8c8c"/>
<rect x="301.3" y="738.1" width="5.8" height="5.8" fill="#8c8c8c"/>
<rect x="330.2" y="752.7" width="5.8" height="5.8" fill="#8c8c8c"/>
<rect x="355.7" y="764.8" width="5.8" height="5.8" fill="#8c8c8c"/>
<rect x="248.5" y="730.4" width="4.6" height="4.6" fill="#fff" stroke="#111" stroke-width="1.3"/>
<rect x="275.6" y="734" width="4.6" height="4.6" fill="#fff" stroke="#111" stroke-width="1.3"/>
<rect x="301.9" y="748.2" width="4.6" height="4.6" fill="#fff" stroke="#111" stroke-width="1.3"/>
<rect x="330.8" y="762.8" width="4.6" height="4.6" fill="#fff" stroke="#111" stroke-width="1.3"/>
<text x="251.2" y="826.4" font-size="13" text-anchor="middle" fill="#111" stroke="#111" stroke-width="0.5" font-family="Liberation Sans, sans-serif" font-weight="bold" >5</text>
<text x="278.2" y="826.4" font-size="13" text-anchor="middle" fill="#111" stroke="#111" stroke-width="0.5" font-family="Liberation Sans, sans-serif" font-weight="bold" >2.5</text>
<text x="305.4" y="826.4" font-size="13" text-anchor="middle" fill="#111" stroke="#111" stroke-width="0.5" font-family="Liberation Sans, sans-serif" font-weight="bold" >1.2</text>
<text x="333.2" y="826.4" font-size="13" text-anchor="middle" fill="#111" stroke="#111" stroke-width="0.5" font-family="Liberation Sans, sans-serif" font-weight="bold" >0.6</text>
<text x="358.6" y="826.4" font-size="13" text-anchor="middle" fill="#111" stroke="#111" stroke-width="0.5" font-family="Liberation Sans, sans-serif" font-weight="bold" >0.3</text>
<text x="304.4" y="843.6" font-size="13" text-anchor="middle" fill="#111" stroke="#111" stroke-width="0.5" font-family="Liberation Sans, sans-serif" font-weight="bold" >E:T ratio</text>
<rect x="208.3" y="861.9" width="27.8" height="12.4" fill="#fff" stroke="#111" stroke-width="1.2" />
<text x="222.1" y="871.3" font-size="10.6" text-anchor="middle" fill="#111" stroke="#111" stroke-width="0.41" font-family="Liberation Sans, sans-serif" font-weight="bold" >- VA</text>
<rect x="240.2" y="861.9" width="28" height="12.4" fill="#878787" stroke="#3c3c3c" stroke-width="1.1" />
<text x="254.3" y="871.3" font-size="10.6" text-anchor="middle" fill="#111" stroke="#111" stroke-width="0.41" font-family="Liberation Sans, sans-serif" font-weight="bold" >+ VA</text>
<text x="270.6" y="873" font-size="12.5" text-anchor="start" fill="#111" stroke="#111" stroke-width="0.48" font-family="Liberation Sans, sans-serif" font-weight="bold" >mismatched NK</text>
<ellipse cx="222.1" cy="886.7" rx="13.7" ry="7.3" fill="#fff" stroke="#111" stroke-width="1.2"/>
<text x="222.3" y="890" font-size="10.6" text-anchor="middle" fill="#111" stroke="#111" stroke-width="0.41" font-family="Liberation Sans, sans-serif" font-weight="bold" >-VA</text>
<ellipse cx="253.2" cy="886.7" rx="14.1" ry="7.3" fill="#878787" stroke="#3c3c3c" stroke-width="1.1"/>
<text x="253.4" y="890" font-size="10.6" text-anchor="middle" fill="#111" stroke="#111" stroke-width="0.41" font-family="Liberation Sans, sans-serif" font-weight="bold" >+VA</text>
<text x="270.6" y="891.2" font-size="12.5" text-anchor="start" fill="#111" stroke="#111" stroke-width="0.48" font-family="Liberation Sans, sans-serif" font-weight="bold" >matched NK</text>
<line x1="459.5" y1="109.4" x2="459.5" y2="123.3" stroke="#111" stroke-width="1.2" />
<line x1="456.9" y1="109.4" x2="462.1" y2="109.4" stroke="#111" stroke-width="1.2" />
<line x1="501" y1="119.9" x2="501" y2="127.4" stroke="#111" stroke-width="1.2" />
<line x1="498.4" y1="119.9" x2="503.6" y2="119.9" stroke="#111" stroke-width="1.2" />
<rect x="441.5" y="92.2" width="12" height="54.1" fill="#fff" stroke="#111" stroke-width="1.4" />
<rect x="453.5" y="123.3" width="12" height="23" fill="#fff" stroke="#111" stroke-width="1.4" />
<rect x="453.5" y="123.3" width="12" height="23" fill="url(#hw)" stroke="#111" stroke-width="1.4" />
<rect x="482.6" y="66" width="12.5" height="80.3" fill="#8c8c8c" stroke="#111" stroke-width="1.4" />
<rect x="495.1" y="127.4" width="11.8" height="18.9" fill="#8c8c8c" stroke="#111" stroke-width="1.4" />
<rect x="495.1" y="127.4" width="11.8" height="18.9" fill="url(#hg)" stroke="#111" stroke-width="1.4" />
<rect x="435.8" y="28.6" width="77.4" height="117.7" fill="none" stroke="#111" stroke-width="1.45" />
<line x1="432.6" y1="41.6" x2="435.8" y2="41.6" stroke="#111" stroke-width="1.2" />
<text x="431.6" y="46.2" font-size="13" text-anchor="end" fill="#111" stroke="#111" stroke-width="0.5" font-family="Liberation Sans, sans-serif" font-weight="bold" >80</text>
<line x1="432.6" y1="67.8" x2="435.8" y2="67.8" stroke="#111" stroke-width="1.2" />
<text x="431.6" y="72.4" font-size="13" text-anchor="end" fill="#111" stroke="#111" stroke-width="0.5" font-family="Liberation Sans, sans-serif" font-weight="bold" >60</text>
<line x1="432.6" y1="94" x2="435.8" y2="94" stroke="#111" stroke-width="1.2" />
<text x="431.6" y="98.6" font-size="13" text-anchor="end" fill="#111" stroke="#111" stroke-width="0.5" font-family="Liberation Sans, sans-serif" font-weight="bold" >40</text>
<line x1="432.6" y1="120.2" x2="435.8" y2="120.2" stroke="#111" stroke-width="1.2" />
<text x="431.6" y="124.8" font-size="13" text-anchor="end" fill="#111" stroke="#111" stroke-width="0.5" font-family="Liberation Sans, sans-serif" font-weight="bold" >20</text>
<line x1="432.6" y1="146.3" x2="435.8" y2="146.3" stroke="#111" stroke-width="1.2" />
<text x="431.6" y="149.4" font-size="13" text-anchor="end" fill="#111" stroke="#111" stroke-width="0.5" font-family="Liberation Sans, sans-serif" font-weight="bold" >0</text>
<line x1="433.8" y1="54.7" x2="435.8" y2="54.7" stroke="#111" stroke-width="1" />
<line x1="433.8" y1="80.9" x2="435.8" y2="80.9" stroke="#111" stroke-width="1" />
<line x1="433.8" y1="107.1" x2="435.8" y2="107.1" stroke="#111" stroke-width="1" />
<line x1="433.8" y1="133.3" x2="435.8" y2="133.3" stroke="#111" stroke-width="1" />
<text x="459" y="111.6" font-size="14" text-anchor="middle" fill="#111" stroke="#111" stroke-width="0.54" font-family="Liberation Sans, sans-serif" font-weight="bold" >*</text>
<text x="502.2" y="121.7" font-size="14" text-anchor="middle" fill="#111" stroke="#111" stroke-width="0.54" font-family="Liberation Sans, sans-serif" font-weight="bold" >**</text>
<line x1="460.3" y1="221.7" x2="460.3" y2="230.8" stroke="#111" stroke-width="1.2" />
<line x1="457.7" y1="221.7" x2="462.9" y2="221.7" stroke="#111" stroke-width="1.2" />
<line x1="501.85" y1="235.4" x2="501.85" y2="255.4" stroke="#111" stroke-width="1.2" />
<line x1="499.25" y1="235.4" x2="504.45" y2="235.4" stroke="#111" stroke-width="1.2" />
<rect x="441.8" y="225.1" width="12.3" height="46.7" fill="#fff" stroke="#111" stroke-width="1.4" />
<rect x="454.1" y="230.8" width="12.4" height="41" fill="#fff" stroke="#111" stroke-width="1.4" />
<rect x="454.1" y="230.8" width="12.4" height="41" fill="url(#hw)" stroke="#111" stroke-width="1.4" />
<rect x="483.7" y="211.2" width="12.1" height="60.6" fill="#8c8c8c" stroke="#111" stroke-width="1.4" />
<rect x="495.8" y="255.4" width="12.1" height="16.4" fill="#8c8c8c" stroke="#111" stroke-width="1.4" />
<rect x="495.8" y="255.4" width="12.1" height="16.4" fill="url(#hg)" stroke="#111" stroke-width="1.4" />
<rect x="436.1" y="154.6" width="78" height="117.2" fill="none" stroke="#111" stroke-width="1.45" />
<line x1="432.9" y1="170.8" x2="436.1" y2="170.8" stroke="#111" stroke-width="1.2" />
<text x="431.9" y="175.4" font-size="13" text-anchor="end" fill="#111" stroke="#111" stroke-width="0.5" font-family="Liberation Sans, sans-serif" font-weight="bold" >60</text>
<line x1="432.9" y1="204.5" x2="436.1" y2="204.5" stroke="#111" stroke-width="1.2" />
<text x="431.9" y="209.1" font-size="13" text-anchor="end" fill="#111" stroke="#111" stroke-width="0.5" font-family="Liberation Sans, sans-serif" font-weight="bold" >40</text>
<line x1="432.9" y1="238.2" x2="436.1" y2="238.2" stroke="#111" stroke-width="1.2" />
<text x="431.9" y="242.8" font-size="13" text-anchor="end" fill="#111" stroke="#111" stroke-width="0.5" font-family="Liberation Sans, sans-serif" font-weight="bold" >20</text>
<line x1="432.9" y1="271.8" x2="436.1" y2="271.8" stroke="#111" stroke-width="1.2" />
<text x="431.9" y="274.4" font-size="13" text-anchor="end" fill="#111" stroke="#111" stroke-width="0.5" font-family="Liberation Sans, sans-serif" font-weight="bold" >0</text>
<line x1="434.1" y1="187.65" x2="436.1" y2="187.65" stroke="#111" stroke-width="1" />
<line x1="434.1" y1="221.35" x2="436.1" y2="221.35" stroke="#111" stroke-width="1" />
<line x1="434.1" y1="255.05" x2="436.1" y2="255.05" stroke="#111" stroke-width="1" />
<text x="501.5" y="237" font-size="14" text-anchor="middle" fill="#111" stroke="#111" stroke-width="0.54" font-family="Liberation Sans, sans-serif" font-weight="bold" >*</text>
<line x1="460.6" y1="330.5" x2="460.6" y2="346.1" stroke="#111" stroke-width="1.2" />
<line x1="458" y1="330.5" x2="463.2" y2="330.5" stroke="#111" stroke-width="1.2" />
<line x1="501.35" y1="343.3" x2="501.35" y2="346.1" stroke="#111" stroke-width="1.2" />
<line x1="498.75" y1="343.3" x2="503.95" y2="343.3" stroke="#111" stroke-width="1.2" />
<rect x="442.2" y="333.6" width="12.2" height="64" fill="#fff" stroke="#111" stroke-width="1.4" />
<rect x="454.4" y="346.1" width="12.4" height="51.5" fill="#fff" stroke="#111" stroke-width="1.4" />
<rect x="454.4" y="346.1" width="12.4" height="51.5" fill="url(#hw)" stroke="#111" stroke-width="1.4" />
<rect x="483.3" y="325.5" width="12.1" height="72.1" fill="#8c8c8c" stroke="#111" stroke-width="1.4" />
<rect x="495.4" y="346.1" width="11.9" height="51.5" fill="#8c8c8c" stroke="#111" stroke-width="1.4" />
<rect x="495.4" y="346.1" width="11.9" height="51.5" fill="url(#hg)" stroke="#111" stroke-width="1.4" />
<rect x="435.8" y="280.7" width="78" height="116.9" fill="none" stroke="#111" stroke-width="1.45" />
<line x1="432.6" y1="281.2" x2="435.8" y2="281.2" stroke="#111" stroke-width="1.2" />
<text x="431.6" y="289.2" font-size="13" text-anchor="end" fill="#111" stroke="#111" stroke-width="0.5" font-family="Liberation Sans, sans-serif" font-weight="bold" >100</text>
<line x1="432.6" y1="304.5" x2="435.8" y2="304.5" stroke="#111" stroke-width="1.2" />
<text x="431.6" y="309.9" font-size="13" text-anchor="end" fill="#111" stroke="#111" stroke-width="0.5" font-family="Liberation Sans, sans-serif" font-weight="bold" >80</text>
<line x1="432.6" y1="327.8" x2="435.8" y2="327.8" stroke="#111" stroke-width="1.2" />
<text x="431.6" y="333.1" font-size="13" text-anchor="end" fill="#111" stroke="#111" stroke-width="0.5" font-family="Liberation Sans, sans-serif" font-weight="bold" >60</text>
<line x1="432.6" y1="351" x2="435.8" y2="351" stroke="#111" stroke-width="1.2" />
<text x="431.6" y="356.3" font-size="13" text-anchor="end" fill="#111" stroke="#111" stroke-width="0.5" font-family="Liberation Sans, sans-serif" font-weight="bold" >40</text>
<line x1="432.6" y1="374.3" x2="435.8" y2="374.3" stroke="#111" stroke-width="1.2" />
<text x="431.6" y="380" font-size="13" text-anchor="end" fill="#111" stroke="#111" stroke-width="0.5" font-family="Liberation Sans, sans-serif" font-weight="bold" >20</text>
<line x1="432.6" y1="397.6" x2="435.8" y2="397.6" stroke="#111" stroke-width="1.2" />
<text x="431.6" y="400.4" font-size="13" text-anchor="end" fill="#111" stroke="#111" stroke-width="0.5" font-family="Liberation Sans, sans-serif" font-weight="bold" >0</text>
<line x1="433.8" y1="292.85" x2="435.8" y2="292.85" stroke="#111" stroke-width="1" />
<line x1="433.8" y1="316.15" x2="435.8" y2="316.15" stroke="#111" stroke-width="1" />
<line x1="433.8" y1="339.45" x2="435.8" y2="339.45" stroke="#111" stroke-width="1" />
<line x1="433.8" y1="362.65" x2="435.8" y2="362.65" stroke="#111" stroke-width="1" />
<line x1="433.8" y1="385.95" x2="435.8" y2="385.95" stroke="#111" stroke-width="1" />
<text x="500.8" y="344.4" font-size="14" text-anchor="middle" fill="#111" stroke="#111" stroke-width="0.54" font-family="Liberation Sans, sans-serif" font-weight="bold" >*</text>
<rect x="436.2" y="401.8" width="35.6" height="16" fill="#fff" stroke="#111" stroke-width="1.4" />
<text x="454.2" y="414.5" font-size="13" text-anchor="middle" fill="#111" stroke="#111" stroke-width="0.5" font-family="Liberation Sans, sans-serif" font-weight="bold" >- VA</text>
<rect x="478.2" y="401.8" width="35.6" height="16" fill="#808080" stroke="#3a3a3a" stroke-width="1.2" />
<text x="496.6" y="414.5" font-size="13" text-anchor="middle" fill="#111" stroke="#111" stroke-width="0.5" font-family="Liberation Sans, sans-serif" font-weight="bold" >+ VA</text>
<line x1="458.65" y1="503.6" x2="458.65" y2="511.7" stroke="#111" stroke-width="1.2" />
<line x1="456.05" y1="503.6" x2="461.25" y2="503.6" stroke="#111" stroke-width="1.2" />
<line x1="500.6" y1="496.6" x2="500.6" y2="504.6" stroke="#111" stroke-width="1.2" />
<line x1="498" y1="496.6" x2="503.2" y2="496.6" stroke="#111" stroke-width="1.2" />
<rect x="440.3" y="500.6" width="12.2" height="58.2" fill="#fff" stroke="#111" stroke-width="1.4" />
<rect x="452.5" y="511.7" width="12.3" height="47.1" fill="#fff" stroke="#111" stroke-width="1.4" />
<rect x="452.5" y="511.7" width="12.3" height="47.1" fill="url(#hw)" stroke="#111" stroke-width="1.4" />
<rect x="482.2" y="481.4" width="12.2" height="77.4" fill="#8c8c8c" stroke="#111" stroke-width="1.4" />
<rect x="494.4" y="504.6" width="12.4" height="54.2" fill="#8c8c8c" stroke="#111" stroke-width="1.4" />
<rect x="494.4" y="504.6" width="12.4" height="54.2" fill="url(#hg)" stroke="#111" stroke-width="1.4" />
<rect x="435.2" y="441.1" width="76.4" height="117.7" fill="none" stroke="#111" stroke-width="1.45" />
<line x1="432" y1="466.3" x2="435.2" y2="466.3" stroke="#111" stroke-width="1.2" />
<text x="431" y="470.9" font-size="13" text-anchor="end" fill="#111" stroke="#111" stroke-width="0.5" font-family="Liberation Sans, sans-serif" font-weight="bold" >40</text>
<line x1="432" y1="512.5" x2="435.2" y2="512.5" stroke="#111" stroke-width="1.2" />
<text x="431" y="517.1" font-size="13" text-anchor="end" fill="#111" stroke="#111" stroke-width="0.5" font-family="Liberation Sans, sans-serif" font-weight="bold" >20</text>
<line x1="432" y1="558.8" x2="435.2" y2="558.8" stroke="#111" stroke-width="1.2" />
<text x="431" y="560.4" font-size="13" text-anchor="end" fill="#111" stroke="#111" stroke-width="0.5" font-family="Liberation Sans, sans-serif" font-weight="bold" >0</text>
<line x1="433.2" y1="489.4" x2="435.2" y2="489.4" stroke="#111" stroke-width="1" />
<line x1="433.2" y1="535.6" x2="435.2" y2="535.6" stroke="#111" stroke-width="1" />
<line x1="433.2" y1="443.2" x2="435.2" y2="443.2" stroke="#111" stroke-width="1" />
<text x="500.2" y="498.3" font-size="14" text-anchor="middle" fill="#111" stroke="#111" stroke-width="0.54" font-family="Liberation Sans, sans-serif" font-weight="bold" >*</text>
<line x1="458.45" y1="634.7" x2="458.45" y2="645.4" stroke="#111" stroke-width="1.2" />
<line x1="455.85" y1="634.7" x2="461.05" y2="634.7" stroke="#111" stroke-width="1.2" />
<line x1="500.45" y1="613.5" x2="500.45" y2="634.1" stroke="#111" stroke-width="1.2" />
<line x1="497.85" y1="613.5" x2="503.05" y2="613.5" stroke="#111" stroke-width="1.2" />
<rect x="440.3" y="620.6" width="12.4" height="64.9" fill="#fff" stroke="#111" stroke-width="1.4" />
<rect x="452.7" y="645.4" width="11.5" height="40.1" fill="#fff" stroke="#111" stroke-width="1.4" />
<rect x="452.7" y="645.4" width="11.5" height="40.1" fill="url(#hw)" stroke="#111" stroke-width="1.4" />
<rect x="482.2" y="607" width="12.2" height="78.5" fill="#8c8c8c" stroke="#111" stroke-width="1.4" />
<rect x="494.4" y="634.1" width="12.1" height="51.4" fill="#8c8c8c" stroke="#111" stroke-width="1.4" />
<rect x="494.4" y="634.1" width="12.1" height="51.4" fill="url(#hg)" stroke="#111" stroke-width="1.4" />
<rect x="435.2" y="567.9" width="76.4" height="117.6" fill="none" stroke="#111" stroke-width="1.45" />
<line x1="432" y1="585.6" x2="435.2" y2="585.6" stroke="#111" stroke-width="1.2" />
<text x="431" y="590.2" font-size="13" text-anchor="end" fill="#111" stroke="#111" stroke-width="0.5" font-family="Liberation Sans, sans-serif" font-weight="bold" >60</text>
<line x1="432" y1="618.9" x2="435.2" y2="618.9" stroke="#111" stroke-width="1.2" />
<text x="431" y="623.5" font-size="13" text-anchor="end" fill="#111" stroke="#111" stroke-width="0.5" font-family="Liberation Sans, sans-serif" font-weight="bold" >40</text>
<line x1="432" y1="652.1" x2="435.2" y2="652.1" stroke="#111" stroke-width="1.2" />
<text x="431" y="656.7" font-size="13" text-anchor="end" fill="#111" stroke="#111" stroke-width="0.5" font-family="Liberation Sans, sans-serif" font-weight="bold" >20</text>
<line x1="432" y1="685.5" x2="435.2" y2="685.5" stroke="#111" stroke-width="1.2" />
<text x="431" y="687.5" font-size="13" text-anchor="end" fill="#111" stroke="#111" stroke-width="0.5" font-family="Liberation Sans, sans-serif" font-weight="bold" >0</text>
<line x1="433.2" y1="602.25" x2="435.2" y2="602.25" stroke="#111" stroke-width="1" />
<line x1="433.2" y1="635.55" x2="435.2" y2="635.55" stroke="#111" stroke-width="1" />
<line x1="433.2" y1="668.75" x2="435.2" y2="668.75" stroke="#111" stroke-width="1" />
<text x="458.4" y="637" font-size="14" text-anchor="middle" fill="#111" stroke="#111" stroke-width="0.54" font-family="Liberation Sans, sans-serif" font-weight="bold" >*</text>
<text x="500.2" y="614.8" font-size="14" text-anchor="middle" fill="#111" stroke="#111" stroke-width="0.54" font-family="Liberation Sans, sans-serif" font-weight="bold" >*</text>
<circle cx="514.6" cy="685.3" r="0.7" fill="#111"/>
<line x1="458.65" y1="728" x2="458.65" y2="734.8" stroke="#111" stroke-width="1.2" />
<line x1="456.05" y1="728" x2="461.25" y2="728" stroke="#111" stroke-width="1.2" />
<line x1="500.1" y1="731.4" x2="500.1" y2="746.2" stroke="#111" stroke-width="1.2" />
<line x1="497.5" y1="731.4" x2="502.7" y2="731.4" stroke="#111" stroke-width="1.2" />
<rect x="440.3" y="732.4" width="12.2" height="78.4" fill="#fff" stroke="#111" stroke-width="1.4" />
<rect x="452.5" y="734.8" width="12.3" height="76" fill="#fff" stroke="#111" stroke-width="1.4" />
<rect x="452.5" y="734.8" width="12.3" height="76" fill="url(#hw)" stroke="#111" stroke-width="1.4" />
<rect x="481.7" y="736.1" width="12.1" height="74.7" fill="#8c8c8c" stroke="#111" stroke-width="1.4" />
<rect x="493.8" y="746.2" width="12.6" height="64.6" fill="#8c8c8c" stroke="#111" stroke-width="1.4" />
<rect x="493.8" y="746.2" width="12.6" height="64.6" fill="url(#hg)" stroke="#111" stroke-width="1.4" />
<rect x="434.8" y="694.1" width="76.8" height="116.7" fill="none" stroke="#111" stroke-width="1.45" />
<line x1="431.6" y1="694.6" x2="434.8" y2="694.6" stroke="#111" stroke-width="1.2" />
<text x="430.6" y="700.5" font-size="13" text-anchor="end" fill="#111" stroke="#111" stroke-width="0.5" font-family="Liberation Sans, sans-serif" font-weight="bold" >100</text>
<line x1="431.6" y1="717.8" x2="434.8" y2="717.8" stroke="#111" stroke-width="1.2" />
<text x="430.6" y="722.9" font-size="13" text-anchor="end" fill="#111" stroke="#111" stroke-width="0.5" font-family="Liberation Sans, sans-serif" font-weight="bold" >80</text>
<line x1="431.6" y1="741.1" x2="434.8" y2="741.1" stroke="#111" stroke-width="1.2" />
<text x="430.6" y="746.1" font-size="13" text-anchor="end" fill="#111" stroke="#111" stroke-width="0.5" font-family="Liberation Sans, sans-serif" font-weight="bold" >60</text>
<line x1="431.6" y1="764.3" x2="434.8" y2="764.3" stroke="#111" stroke-width="1.2" />
<text x="430.6" y="769.3" font-size="13" text-anchor="end" fill="#111" stroke="#111" stroke-width="0.5" font-family="Liberation Sans, sans-serif" font-weight="bold" >40</text>
<line x1="431.6" y1="787.6" x2="434.8" y2="787.6" stroke="#111" stroke-width="1.2" />
<text x="430.6" y="793" font-size="13" text-anchor="end" fill="#111" stroke="#111" stroke-width="0.5" font-family="Liberation Sans, sans-serif" font-weight="bold" >20</text>
<line x1="431.6" y1="810.8" x2="434.8" y2="810.8" stroke="#111" stroke-width="1.2" />
<text x="430.6" y="813.4" font-size="13" text-anchor="end" fill="#111" stroke="#111" stroke-width="0.5" font-family="Liberation Sans, sans-serif" font-weight="bold" >0</text>
<line x1="432.8" y1="706.2" x2="434.8" y2="706.2" stroke="#111" stroke-width="1" />
<line x1="432.8" y1="729.4" x2="434.8" y2="729.4" stroke="#111" stroke-width="1" />
<line x1="432.8" y1="752.7" x2="434.8" y2="752.7" stroke="#111" stroke-width="1" />
<line x1="432.8" y1="775.9" x2="434.8" y2="775.9" stroke="#111" stroke-width="1" />
<line x1="432.8" y1="799.2" x2="434.8" y2="799.2" stroke="#111" stroke-width="1" />
<circle cx="514.4" cy="810.9" r="0.7" fill="#111"/>
<rect x="435.6" y="816.2" width="35.8" height="16" fill="#fff" stroke="#111" stroke-width="1.4" />
<text x="453.6" y="828.9" font-size="13" text-anchor="middle" fill="#111" stroke="#111" stroke-width="0.5" font-family="Liberation Sans, sans-serif" font-weight="bold" >- VA</text>
<rect x="477.8" y="816.2" width="35.6" height="16" fill="#808080" stroke="#3a3a3a" stroke-width="1.2" />
<text x="496" y="828.9" font-size="13" text-anchor="middle" fill="#111" stroke="#111" stroke-width="0.5" font-family="Liberation Sans, sans-serif" font-weight="bold" >+ VA</text>
<rect x="382" y="861.2" width="9.8" height="10.8" fill="#fff" stroke="#111" stroke-width="1.2" />
<rect x="396.3" y="861.2" width="9.4" height="10.8" fill="#8c8c8c" stroke="#444" stroke-width="1" />
<text x="409" y="871" font-size="12.8" text-anchor="start" fill="#111" stroke="#111" stroke-width="0.49" font-family="Liberation Sans, sans-serif" font-weight="bold" >no Ab block</text>
<rect x="382" y="876.8" width="9.8" height="10.8" fill="url(#hw)" stroke="#111" stroke-width="1.2" />
<rect x="396.3" y="876.8" width="9.4" height="10.8" fill="url(#hg)" stroke="#111" stroke-width="1" />
<text x="408.6" y="887" font-size="13.5" fill="#111" stroke="#111" stroke-width="0.6" font-family="Liberation Sans, sans-serif">&#945;</text>
<text x="419.8" y="887" font-size="12.8" text-anchor="start" fill="#111" stroke="#111" stroke-width="0.49" font-family="Liberation Sans, sans-serif" font-weight="bold" >NKG2D Ab</text>
</svg>
</body></html>
